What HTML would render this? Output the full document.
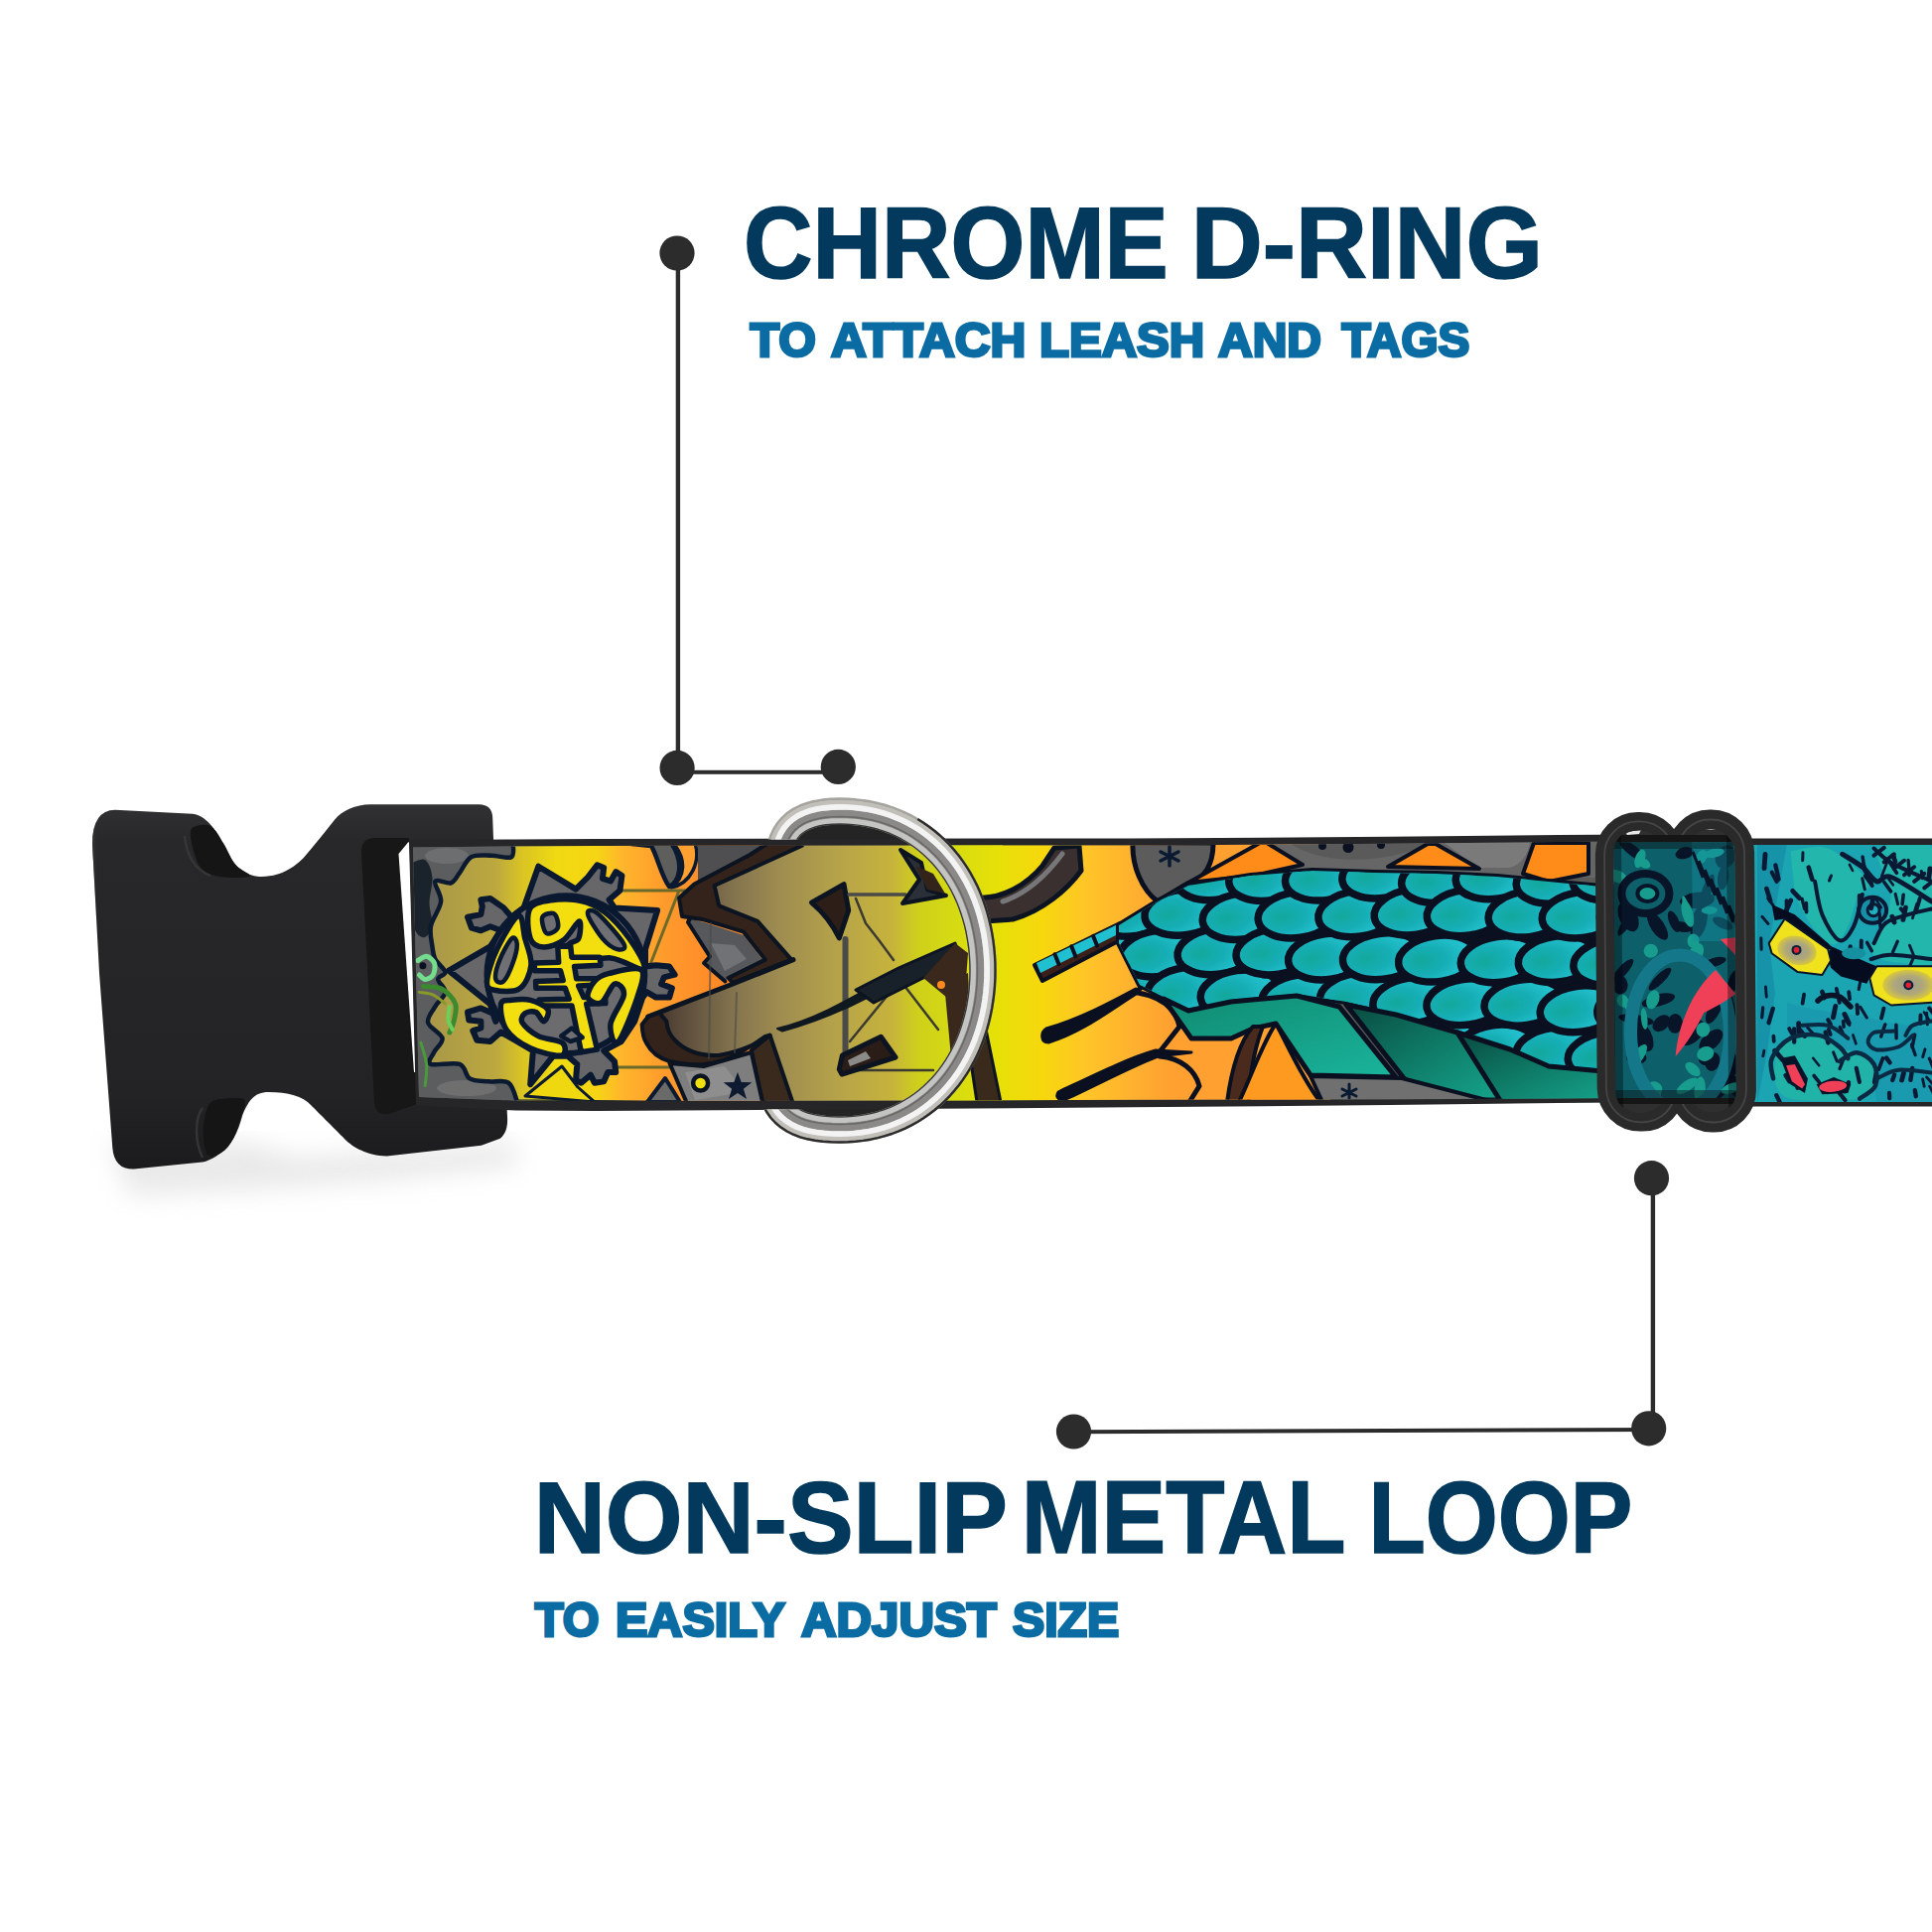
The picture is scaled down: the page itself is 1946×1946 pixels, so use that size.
<!DOCTYPE html>
<html lang="en">
<head>
<meta charset="utf-8">
<title>Dog collar features</title>
<style>
html,body{margin:0;padding:0;background:#fff;}
body{width:1946px;height:1946px;overflow:hidden;position:relative;font-family:"Liberation Sans",sans-serif;}
svg{position:absolute;left:0;top:0;display:block;}
.t1{font-family:"Liberation Sans",sans-serif;font-weight:700;font-size:102.9px;fill:#02395c;stroke:#02395c;stroke-width:1.6px;stroke-linejoin:miter;}
.t2{font-family:"Liberation Sans",sans-serif;font-weight:700;font-size:48.8px;fill:#0a6ca3;stroke:#0a6ca3;stroke-width:3px;stroke-linejoin:miter;}
</style>
</head>
<body>
<svg width="1946" height="1946" viewBox="0 0 1946 1946">
<rect width="1946" height="1946" fill="#ffffff"/>
<defs>
<linearGradient id="gBuckle" x1="0" y1="0" x2="0" y2="1">
<stop offset="0" stop-color="#313133"/><stop offset="0.1" stop-color="#28282a"/><stop offset="0.8" stop-color="#232325"/><stop offset="1" stop-color="#1b1b1d"/>
</linearGradient>
<linearGradient id="gBuckleX" x1="0" y1="0" x2="1" y2="0">
<stop offset="0" stop-color="#3a3a3c" stop-opacity="0.9"/><stop offset="0.08" stop-color="#2e2e30" stop-opacity="0"/><stop offset="1" stop-color="#2e2e30" stop-opacity="0"/>
</linearGradient>
<filter id="fBlur12" x="-20%" y="-20%" width="140%" height="160%"><feGaussianBlur stdDeviation="12"/></filter>
<filter id="fBlur4" x="-20%" y="-20%" width="140%" height="140%"><feGaussianBlur stdDeviation="4"/></filter>
<filter id="fBlur2" x="-20%" y="-20%" width="140%" height="140%"><feGaussianBlur stdDeviation="2"/></filter>
<clipPath id="cpArt"><path d="M416,853.5 L520,852.5 L600,852 L1140,851.5 L1400,849.8 L1570,848 L1690,847.3 L1690,851 L1946,851 L1946,1110 L1690,1110 L1690,1105.5 L1570,1106.5 L1400,1107.2 L1140,1107.8 L900,1108.5 L600,1109 L520,1108.5 L422,1105 Z"/></clipPath>
<clipPath id="cpRing"><path d="M0,0 H1946 V1946 H0 Z M700,845.5 V1117.5 H806 V845.5 Z" clip-rule="evenodd"/></clipPath>
<clipPath id="cpWin"><rect x="1626.3" y="835" width="121.5" height="288" rx="24"/></clipPath>
<clipPath id="cpWinArt"><rect x="1620" y="848.5" width="140" height="257.5"/></clipPath>
</defs>
<g id="shadow" opacity="0.3">
<path d="M110,1150 L250,1150 L300,1165 L520,1150 L520,1175 L390,1190 L240,1200 L130,1205 Z" fill="#b9b9b9" filter="url(#fBlur12)"/>
</g>
<g id="buckle">
<path id="buckleBody" d="M93,850 Q93,816 116,815.7 L194,819.8 C210,822 220,840 227.6,856.7 C235,870 245,882 261,882.9 C285,884 300,870 306,863.8 C315,853 330,835 337,825.7 C345,816 358,810.5 372.9,810.2 L482.4,810.2 Q496,810.5 496.2,824 L497,845 L511,1125 Q512,1140 503.8,1146.7 L484.8,1153.8 L389.5,1164.5 C370,1164 355,1155 349,1149 C340,1140 320,1120 313.3,1113.3 C305,1104 290,1100 270.5,1100 C255,1100 250,1110 244.3,1122.9 C240,1140 232,1156 222.9,1161 C215,1167 208,1170 203.8,1170.5 L134.8,1177.6 Q115,1178 113.3,1156 L100,980 Z" fill="url(#gBuckle)"/>
<path d="M93,850 Q93,816 116,815.7 L134,816.5 L150,1177 L134.8,1177.6 Q115,1178 113.3,1156 L100,980 Z" fill="url(#gBuckleX)"/>
<!-- slots -->
<path d="M191.9,837.6 C192.5,833.1 195.5,832.5 199.0,831.7 C202.6,830.9 209.0,829.9 213.3,832.9 C217.7,835.8 221.3,843.2 225.2,849.5 C229.2,855.9 232.8,865.5 237.1,871.0 C241.5,876.4 253.8,880.3 251.4,882.4 C249.0,884.4 230.8,884.4 222.9,883.3 C214.9,882.2 208.4,879.8 203.8,875.7 C199.2,871.7 197.5,865.4 195.5,859.0 C193.5,852.7 191.3,842.2 191.9,837.6 Z" fill="#151516"/>
<path d="M186,842 C188,862 196,876 212,882" fill="none" stroke="#3a3a3c" stroke-width="2.5" opacity="0.8"/>
<path d="M213.3,1109.8 C217.7,1106.6 226.8,1106.4 232.4,1106.2 C237.9,1106.0 245.1,1105.0 246.7,1108.6 C248.3,1112.1 243.9,1121.3 241.9,1127.6 C239.9,1134.0 237.9,1141.1 234.8,1146.7 C231.6,1152.2 227.0,1158.2 222.9,1161.0 C218.7,1163.7 212.7,1165.7 209.8,1163.3 C206.8,1161.0 205.6,1153.0 205.0,1146.7 C204.4,1140.3 204.8,1131.4 206.2,1125.2 C207.6,1119.1 209.0,1112.9 213.3,1109.8 Z" fill="#151516"/>
<path d="M204,1116 C196,1126 196,1150 204,1166" fill="none" stroke="#39393b" stroke-width="2.5" opacity="0.8"/>
<!-- window -->
<path d="M364,858 Q364,844 378,844 L412,844 L420,1112 L392,1122 Q378,1124 377,1110 Z" fill="#171718"/>
<path d="M401.5,860 L411,848.5 L412.4,848 L418.8,1080 L417,1080 Z" fill="#ffffff"/>
</g>
<g id="strap">
<!-- bulge of the webbing edge inside the ring -->
<path d="M790,846 L798,837 L815,831.5 L846,829.5 L880,833 L906,841 L928,851 Z" fill="#242424"/>
<path d="M786,1114 L797,1123 L820,1126.5 L850,1126 L880,1122 L903,1114 Z" fill="#242424"/>
<path d="M412,846.5 L520,845.5 L600,845 L1140,844.5 L1400,842.8 L1570,841 L1690,840.3 L1690,844.5 L1946,844.6 L1946,1114.6 L1690,1114.5 L1690,1110 L1570,1111 L1400,1113 L1140,1115.3 L900,1117 L600,1119 L520,1118.5 L419,1113.5 Z" fill="#262628"/>
<g clip-path="url(#cpArt)">
<rect x="400" y="840" width="1560" height="280" fill="#5a5a58"/>
<!--ART-->
</g>
</g>
<g id="artA" clip-path="url(#cpArt)" stroke-linejoin="round" stroke-linecap="round">
<defs>
<linearGradient id="gA" gradientUnits="userSpaceOnUse" x1="430" y1="0" x2="720" y2="0">
<stop offset="0" stop-color="#a8974a"/><stop offset="0.24" stop-color="#bca83e"/><stop offset="0.33" stop-color="#d9c424"/>
<stop offset="0.45" stop-color="#f0da12"/><stop offset="0.59" stop-color="#f6d514"/><stop offset="0.68" stop-color="#ffb52c"/>
<stop offset="0.83" stop-color="#ff9a2c"/><stop offset="1" stop-color="#ff8a28"/>
</linearGradient>
</defs>
<!-- dark left edge + grey mottling -->
<rect x="408" y="846" width="130" height="270" fill="#5b5d5e"/>
<path d="M415.1,869.0 C417.3,868.5 424.8,863.7 428.2,866.1 C431.6,868.5 434.7,876.2 435.4,883.5 C436.2,890.7 432.5,901.4 432.5,909.6 C432.5,917.8 436.4,927.0 435.4,932.8 C434.5,938.6 429.9,944.3 426.7,944.3 C423.6,944.3 418.5,940.5 416.6,932.8 C414.7,925.0 415.4,903.8 415.1,898.0 Z" fill="#1a222c"/>
<ellipse cx="450" cy="862" rx="22" ry="8" fill="#747676" opacity="0.7"/>
<ellipse cx="470" cy="1096" rx="30" ry="8" fill="#777" opacity="0.7"/>
<!-- khaki → yellow → orange field -->
<path d="M516.6,848.7 C516.4,851.1 518.8,861.0 515.1,863.2 C511.5,865.4 501.6,861.7 494.9,861.7 C488.1,861.7 479.9,860.3 474.6,863.2 C469.3,866.1 466.4,874.8 463.0,879.1 C459.6,883.5 458.4,887.8 454.3,889.3 C450.2,890.7 440.0,884.7 438.3,887.8 C436.6,891.0 444.9,900.6 444.1,908.1 C443.4,915.6 435.4,925.3 434.0,932.8 C432.5,940.2 434.7,947.5 435.4,953.0 C436.2,958.6 436.2,961.7 438.3,966.1 C440.5,970.4 448.0,975.7 448.5,979.1 C449.0,982.5 441.2,983.0 441.2,986.4 C441.2,989.8 449.0,994.8 448.5,999.4 C448.0,1004.0 441.2,1008.8 438.3,1013.9 C435.4,1019.0 429.9,1024.5 431.1,1029.9 C432.3,1035.2 444.6,1040.7 445.6,1045.8 C446.5,1050.9 438.8,1055.9 436.9,1060.3 C435.0,1064.6 429.6,1070.0 434.0,1071.9 C438.3,1073.8 456.4,1069.5 463.0,1071.9 C469.5,1074.3 468.3,1083.5 473.1,1086.4 C477.9,1089.3 485.4,1088.6 492.0,1089.3 C498.5,1090.0 507.4,1087.3 512.2,1090.7 C517.1,1094.1 519.5,1106.4 520.9,1109.6 L770,1112 L770,848 Z" fill="url(#gA)" stroke="#0b1a30" stroke-width="4.5"/>
<!-- green swirl -->
<path d="M420.9,967.5 C422.4,966.8 426.9,962.7 429.6,963.2 C432.4,963.7 436.5,967.3 437.6,970.4 C438.7,973.6 437.7,979.4 436.2,982.0 C434.6,984.7 430.5,986.4 428.2,986.4 C425.9,986.4 423.4,982.8 422.4,982.0" fill="none" stroke="#74dc8c" stroke-width="5"/>
<circle cx="425.9" cy="972.8" r="3.5" fill="#0a1020"/>
<path d="M426.7,993.6 C429.9,994.1 440.3,993.6 445.6,996.5 C450.9,999.4 456.7,1005.7 458.6,1011.0 C460.6,1016.3 458.1,1023.6 457.2,1028.4 C456.2,1033.2 453.6,1038.1 452.8,1040.0" fill="none" stroke="#3c8a2e" stroke-width="5"/>
<path d="M452.8,1013.9 C452.6,1016.1 450.9,1023.1 451.4,1027.0 C451.9,1030.8 455.0,1035.4 455.7,1037.1" fill="none" stroke="#6ad05a" stroke-width="4"/>
<path d="M422.4,999.4 C424.8,999.9 432.5,1000.4 436.9,1002.3 C441.2,1004.3 446.5,1009.6 448.5,1011.0" fill="none" stroke="#8a9a2a" stroke-width="3"/>
<path d="M423.8,1050.1 C424.8,1053.8 428.9,1064.6 429.6,1071.9 C430.4,1079.1 428.4,1090.0 428.2,1093.6" fill="none" stroke="#4a9a3a" stroke-width="3"/>
<!-- U blob top right -->
<path d="M636,850 L656,852 C662,862 666,882 674,893 C684,888 690,870 676,849 Z" fill="#5e5e5c" stroke="#0b1a30" stroke-width="4.5"/>
<path d="M678,849 C692,866 690,884 676,894 C696,890 706,868 700,849 Z" fill="#ffa030" stroke="#0b1a30" stroke-width="3.5"/>
<!-- thin olive square lines -->
<path d="M623,897 H690 M612,1075 H690 M684,897 L640,1010" fill="none" stroke="#6b6a2a" stroke-width="3"/>
<!-- emblem -->
<g id="emblem" stroke-linejoin="round" stroke-linecap="round">
<path d="M542.3,872.7 L580.0,895.6 L592.1,883.5 L601.5,871.3 L608.2,874.0 L606.9,884.8 L615.0,887.5 L620.3,878.1 L626.4,882.1 L624.4,896.9 L613.6,906.3 L619.0,914.4 L662.1,917.1 L650.0,956.1 L650.0,973.6 L660.7,972.3 L674.2,973.6 L679.6,981.7 L668.8,984.4 L666.1,991.1 L676.9,995.2 L674.2,1004.6 L660.7,1004.6 L651.3,999.2 L647.3,1004.6 L639.2,1028.8 L625.7,1049.0 L608.2,1058.4 L619.0,1069.2 L620.3,1080.0 L612.3,1080.0 L608.2,1089.4 L598.8,1090.7 L594.8,1082.7 L585.4,1090.7 L580.0,1088.0 L581.3,1071.9 L571.9,1063.8 L557.1,1063.8 L534.2,1092.1 L536.9,1058.4 L520.8,1049.0 L504.6,1039.6 L493.8,1049.0 L480.4,1047.7 L476.3,1038.2 L484.4,1035.5 L484.4,1028.8 L472.3,1027.5 L471.0,1019.4 L484.4,1015.4 L496.5,1020.7 L499.2,1028.8 L493.8,1011.3 L452.1,977.7 L493.8,953.4 L504.6,937.3 L493.8,933.3 L484.4,937.3 L475.0,934.6 L471.0,923.8 L484.4,921.1 L485.8,913.1 L484.4,906.3 L493.8,905.0 L507.3,914.4 L515.4,923.8 L527.5,914.4 Z" fill="#67676a" stroke="#0a1830" stroke-width="6"/>
<circle cx="569.9" cy="981.7" r="79.4" fill="#6c6c6e" stroke="#0a1830" stroke-width="6"/>
<path d="M522.1,922.5 C517.4,924.3 505.8,945.1 500.6,956.1 C495.3,967.1 490.9,981.6 490.5,988.4 C490.0,995.3 492.4,996.0 497.9,997.2 C503.4,998.4 517.3,1000.0 523.4,995.8 C529.6,991.7 534.0,980.7 534.9,972.3 C535.8,963.9 531.0,953.7 528.8,945.4 C526.7,937.1 526.8,920.7 522.1,922.5 Z" fill="#f3de10" stroke="#0a1830" stroke-width="5.5"/>
<path d="M515.4,945.4 C512.5,948.1 505.9,960.2 503.3,966.9 C500.6,973.6 498.5,982.2 499.2,985.7 C499.9,989.3 504.4,991.1 507.3,988.4 C510.2,985.7 514.5,975.9 516.7,969.6 C519.0,963.3 521.0,954.8 520.8,950.8 C520.5,946.7 518.3,942.7 515.4,945.4 Z" fill="#707074" stroke="#0a1830" stroke-width="4.5"/>
<path d="M534.2,914.4 C538.7,907.9 551.7,907.0 561.1,906.1 C570.6,905.2 581.8,906.1 590.7,909.0 C599.7,912.0 606.9,916.4 615.0,923.8 C623.0,931.2 633.7,944.7 639.2,953.4 C644.7,962.2 652.0,974.4 647.9,976.3 C643.9,978.2 627.0,965.9 615.0,964.9 C603.0,963.9 583.0,972.4 575.9,970.3 C568.9,968.1 571.4,956.2 572.6,952.1 C573.7,947.9 580.9,949.4 582.7,945.4 C584.5,941.3 585.8,927.6 583.3,927.9 C580.9,928.1 573.8,942.3 567.9,946.7 C561.9,951.1 553.3,954.3 547.7,954.1 C542.1,953.9 536.5,952.0 534.2,945.4 C532.0,938.8 529.7,921.0 534.2,914.4 Z" fill="#f3de10" stroke="#0a1830" stroke-width="5.5"/>
<path d="M546.3,923.8 C547.7,920.6 555.9,918.7 558.4,920.5 C561.0,922.3 563.1,931.4 561.8,934.6 C560.5,937.9 552.9,941.8 550.4,940.0 C547.8,938.2 545.0,927.1 546.3,923.8 Z" fill="#707074" stroke="#0a1830" stroke-width="4.5"/>
<path d="M592.1,921.1 C591.2,916.9 595.5,914.9 601.5,919.8 C607.6,924.7 625.1,944.7 628.4,950.8 C631.8,956.8 625.3,957.0 621.7,956.1 C618.1,955.2 611.8,951.2 606.9,945.4 C602.0,939.5 593.0,925.4 592.1,921.1 Z" fill="#707074" stroke="#0a1830" stroke-width="4.5"/>
<path d="M561.8,953.4 L574.6,952.1 L575.9,964.2 L604.2,964.2 L604.9,972.3 L578.6,973.6 L580.6,985.7 L606.9,985.7 L607.6,991.8 L582.7,993.1 L588.0,1004.6 L609.6,1004.6 L609.9,1010.6 L590.7,1011.3 L601.5,1057.1 L585.4,1059.8 L575.9,1012.9 L543.6,1012.9 L543.0,1007.0 L573.2,1006.2 L569.2,995.2 L539.9,995.2 L539.6,988.4 L567.2,987.4 L564.5,977.7 L538.5,977.7 L538.3,969.9 L562.7,969.3 Z" fill="#f3de10" stroke="#0a1830" stroke-width="5.5"/>
<path d="M504.6,1011.3 C503.7,1016.3 505.1,1029.5 510.0,1036.9 C514.9,1044.3 525.0,1051.4 534.2,1055.7 C543.4,1060.1 559.8,1064.0 565.2,1063.1 C570.6,1062.2 570.3,1053.6 566.5,1050.3 C562.7,1047.1 549.0,1047.0 542.3,1043.6 C535.6,1040.3 528.4,1034.0 526.1,1030.2 C523.9,1026.3 526.6,1022.5 528.8,1020.7 C531.1,1018.9 536.5,1018.0 539.6,1019.4 C542.7,1020.7 545.7,1029.3 547.7,1028.8 C549.7,1028.4 554.0,1020.3 551.7,1016.7 C549.5,1013.1 540.3,1008.9 534.2,1007.3 C528.2,1005.7 520.3,1006.6 515.4,1007.3 C510.4,1008.0 505.5,1006.4 504.6,1011.3 Z" fill="#f3de10" stroke="#0a1830" stroke-width="5.5"/>
<path d="M613.6,980.4 C621.5,978.5 641.2,973.0 645.9,977.0 C650.6,981.0 645.8,992.5 641.9,1004.6 C638.0,1016.7 626.9,1045.2 622.4,1049.7 C617.9,1054.2 614.0,1039.5 615.0,1031.5 C616.0,1023.5 627.8,1008.6 628.4,1001.9 C629.1,995.2 622.8,989.8 619.0,991.1 C615.2,992.5 610.0,1007.7 605.5,1010.0 C601.1,1012.2 593.2,1008.2 592.1,1004.6 C591.0,1001.0 595.2,992.5 598.8,988.4 C602.4,984.4 605.8,982.3 613.6,980.4 Z" fill="#f3de10" stroke="#0a1830" stroke-width="5.5"/>
<path d="M565.2,1043.6 L575.9,1035.5 L586.7,1045.0 L574.6,1049.0 Z" fill="#707074" stroke="#0a1830" stroke-width="4.5"/>
</g>
<!-- bottom yellow wedge -->
<path d="M529,1104 L566,1074 L582,1095 L599,1110 Z" fill="#f0d810" stroke="#0b1a30" stroke-width="3"/>
<!-- bottom right grey triangle + dot -->
<path d="M652,1110 L670,1086 L685,1110 Z" fill="#6a6a68" stroke="#0b1a30" stroke-width="4"/>
</g>
<g id="artB" clip-path="url(#cpArt)" stroke-linejoin="round" stroke-linecap="round">
<defs>
<linearGradient id="gB" gradientUnits="userSpaceOnUse" x1="660" y1="0" x2="1000" y2="0">
<stop offset="0" stop-color="#453628"/><stop offset="0.06" stop-color="#564638"/><stop offset="0.14" stop-color="#6b5c44"/><stop offset="0.24" stop-color="#85754e"/><stop offset="0.38" stop-color="#a08e50"/>
<stop offset="0.56" stop-color="#b8a548"/><stop offset="0.7" stop-color="#c6b33c"/><stop offset="0.78" stop-color="#cfd01a"/><stop offset="0.9" stop-color="#d6dc12"/><stop offset="1" stop-color="#e4e208"/>
</linearGradient>
</defs>
<!-- grey top-left behind the top arm -->
<path d="M703,848 L782,848 L703,891 Z" fill="#4f4f51"/>
<!-- khaki / yellow-green field for the letters (one big region) -->
<path d="M664,1020 L737,991.5 L799,966.6 L763,928 L724,912 L719.6,892 L808,851 L1010,850 L1010,1110 L800,1110 L775.5,1043 C764,1050 750,1058 724,1063 C705,1064 690,1058 680,1048 C674,1042 672,1036 671,1029 Z" fill="url(#gB)"/>
<!-- grey inside the chevron -->
<path d="M693,925 L709,929 L749,942 L768,966.6 L733.5,985 L730,988 L709,970 L715,963.5 L693,929 Z" fill="#56585c"/>
<path d="M716,950 L740,952 L752,966 L730,978 Z" fill="#8a8c8e" opacity="0.5"/>
<!-- jagged navy outline between orange and grey -->
<path d="M699,917 L693,929 L715,963.5 L709,970 L730.4,988.4" fill="none" stroke="#0b1420" stroke-width="4"/>
<!-- brown 3D band: top arm + chevron (one connected shape) -->
<path d="M810,846 L778.6,846 L755.3,861 L699.4,890.6 L684,904.5 L687,923 L708.7,926.3 L749,938.7 L770.8,966.6 L733.5,985 L738.2,990 L797.2,966.6 L763,927.8 L724.2,912.3 L719.6,892 L808,851.7 Z" fill="#33231a" stroke="#0b1420" stroke-width="4"/>
<!-- upper edge of middle band (navy line) -->
<path d="M652.8,1024 L737,991.5 L799,966.6" fill="none" stroke="#0b1420" stroke-width="5"/>
<!-- brown band around the S bowl -->
<path d="M652.8,1024 L646.6,1032 C647,1040 648,1046 651,1050.5 C656,1060 664,1066 674.5,1069 C686,1072 698,1072.5 708.7,1072 C720,1071 730,1068 739.8,1063 C752,1057 762,1050 770.8,1044 L775.5,1042.7 C764,1050 750,1058 724,1063 C705,1064 690,1058 680,1048 C674,1042 672,1036 671.4,1028.8 L664,1020 Z" fill="#33231a" stroke="#0b1420" stroke-width="4"/>
<!-- E stem brown -->
<path d="M756.8,1058 L775.5,1042.7 L800.3,1116 L769.3,1116 Z" fill="#3a2a1e" stroke="#0b1420" stroke-width="4"/>
<!-- light grey area with dot + star -->
<path d="M674.5,1071 L708.7,1074 L739.8,1065 L756.8,1060 L769.3,1116 L694,1116 Z" fill="#7e7e7e" stroke="#0b1420" stroke-width="4"/>
<path d="M690,1080 L730,1074 L750,1100 L700,1108 Z" fill="#9a9a9a" opacity="0.6"/>
<circle cx="705.6" cy="1091" r="7.5" fill="#f0e010" stroke="#0b1420" stroke-width="4.5"/>
<path d="M743,1080 l3.7,10 l10.6,0.3 l-8.4,6.5 l3.1,10.3 l-9,-6.1 l-9,6.1 l3.1,-10.3 l-8.4,-6.5 l10.6,-0.3 z" fill="#0e1a30"/>
<!-- stitched seam lines -->
<path d="M716,930 L714,1066 M742,1000 L740,1060" fill="none" stroke="#4a4a46" stroke-width="2" opacity="0.6"/>
<!-- dark triangle notch upper -->
<path d="M817.4,909.2 L850,890.6 L854.7,917 L845.3,945 C838,930 828,918 817.4,909.2 Z" fill="#2d1f18" stroke="#0b1420" stroke-width="5"/>
<!-- box lines -->
<path d="M855,901 H912" fill="none" stroke="#4a4a48" stroke-width="3.5"/>
<path d="M851.5,946 V1060" fill="none" stroke="#4a4a48" stroke-width="6"/>
<path d="M862,905 L872,930 L886,948 L900,967 M856,1049 L905,989 M908,989 L945,1037 M852,1078 H940" fill="none" stroke="#3a3a30" stroke-width="2.5"/>
<!-- navy swoosh -->
<path d="M783,1036 C830,1025 870,997 928,966 L934,973 C884,1000 842,1024 788,1038.5 Z" fill="#101820" stroke="#101820" stroke-width="2"/>
<!-- lower notch -->
<path d="M845.3,1077 L848.4,1063 L887.3,1044.3 L902,1065 L848,1082 Z" fill="#2a1c16" stroke="#0b1420" stroke-width="5"/>
<path d="M854,1068 L872,1059 L877,1066 L856,1074 Z" fill="#8a8a88"/>
<!-- flag top right -->
<path d="M907,856 L928,869 L934,896 L953,902 L909,910 L926,886 Z" fill="#2a2f38" stroke="#0b1420" stroke-width="4"/>
<path d="M922,872 L940,880 L952,900 L934,896 Z" fill="#33241b"/>
<!-- dark band lower right (seen inside ring) -->
<path d="M862,997 L905,975 L962,950 L968,968 L930,985 L880,1010 Z" fill="#18202a" stroke="#0b1420" stroke-width="3"/>
<path d="M930,985 L962,950 L975,960 L972,1000 L960,1010 Z" fill="#3a281c"/>
<path d="M951,990 L975,980 L982,1108 L962,1108 Z" fill="#3a281c"/>
<circle cx="948" cy="992" r="4" fill="#ff8a20"/>
</g>
<g id="artC" clip-path="url(#cpArt)" stroke-linejoin="round" stroke-linecap="round">
<defs>
<linearGradient id="gC" gradientUnits="userSpaceOnUse" x1="960" y1="0" x2="1180" y2="0">
<stop offset="0" stop-color="#d6dc10"/><stop offset="0.2" stop-color="#e6e008"/><stop offset="0.4" stop-color="#f6d80c"/><stop offset="0.62" stop-color="#ffc428"/><stop offset="0.85" stop-color="#ffae30"/><stop offset="1" stop-color="#ffa030"/>
</linearGradient>
<linearGradient id="gScale" gradientUnits="userSpaceOnUse" x1="1130" y1="0" x2="1620" y2="0">
<stop offset="0" stop-color="#1fb4c0"/><stop offset="1" stop-color="#1aa6b4"/>
</linearGradient>
<radialGradient id="gSc" cx="0.3" cy="0.5" r="0.55"><stop offset="0" stop-color="#12a89c"/><stop offset="0.55" stop-color="#16aeb6"/><stop offset="1" stop-color="#22c0cc"/></radialGradient>
<linearGradient id="gBelly1" x1="0" y1="0" x2="1" y2="1"><stop offset="0" stop-color="#0f8a70"/><stop offset="1" stop-color="#1ab49c"/></linearGradient>
<linearGradient id="gBelly2" x1="0" y1="0" x2="1" y2="1"><stop offset="0" stop-color="#0a4a40"/><stop offset="0.5" stop-color="#0e7a66"/><stop offset="1" stop-color="#16a48c"/></linearGradient>
</defs>
<clipPath id="cpRoR"><path d="M846,817 C936,817 990,890 990,977.5 C990,1065 936,1138 846,1138 L1400,1138 L1400,817 Z"/></clipPath>
<rect x="900" y="848" width="440" height="262" fill="url(#gC)" clip-path="url(#cpRoR)"/>
<path d="M972,1030 L990,1022 L1008,1110 L984,1110 Z" fill="#3a2a1c" stroke="#0b1420" stroke-width="3" clip-path="url(#cpRoR)"/>
<path d="M985,904 C1010,906 1035,890 1050,872 L1062,854 L1087,852 L1089,877 C1075,896 1050,918 1020,926 L992,928 Z" fill="#3a3030" stroke="#0b1420" stroke-width="5"/>
<path d="M1010,908 C1035,900 1055,880 1070,860" fill="none" stroke="#77777a" stroke-width="5"/>
<path d="M1054,1036 C1048,1040 1048,1050 1056,1050 C1090,1040 1120,1016 1146,1000 L1144,996 C1118,1010 1088,1026 1054,1036 Z" fill="#0a1020" stroke="#0a1020" stroke-width="3"/>
<path d="M1066,1100 C1062,1106 1068,1110 1076,1106 C1110,1090 1140,1074 1166,1064 L1200,1060 L1164,1058 C1136,1066 1100,1084 1066,1100 Z" fill="#0a1020" stroke="#0a1020" stroke-width="3"/>
<path d="M1127,950 C1150,944 1166,952 1170,972 L1146,998 M1146,1000 C1170,1004 1184,1016 1188,1034 L1166,1062 M1168,1064 C1190,1066 1204,1078 1208,1094 L1198,1110" fill="none" stroke="#0a1020" stroke-width="5"/>
<path d="M1042,972 L1128,930 L1134,944 L1050,988 Z" fill="#3a2018" stroke="#0a1020" stroke-width="4"/>
<path d="M1044,970 L1128,930 L1132,938 L1048,980 Z" fill="#20c0d0"/>
<path d="M1062.5,961.2 l4,10" stroke="#0a1020" stroke-width="4" fill="none"/>
<path d="M1079.3,953.2 l4,10" stroke="#0a1020" stroke-width="4" fill="none"/>
<path d="M1101.1,942.8 l4,10" stroke="#0a1020" stroke-width="4" fill="none"/>
</g>
<g id="artD" clip-path="url(#cpArt)" stroke-linejoin="round" stroke-linecap="round">
<path d="M1141,849 L1222,849 C1222,870 1214,886 1196,890 L1166,908 C1150,896 1140,872 1141,849 Z" fill="#5c5c5c" stroke="#0a1020" stroke-width="5"/>
<path d="M1178,853 v19 M1169,858 l18,9 M1169,867 l18,-9" stroke="#0a1a30" stroke-width="3.5" fill="none"/>
<path d="M1270,846 L1620,846 L1620,884 L1300,882 Z" fill="#666666"/>
<path d="M1300,850 C1330,870 1390,872 1440,850 Z" fill="#5a5a5a"/>
<path d="M1455,849 L1541,849 C1538,864 1530,872 1520,874 L1488,874 Z" fill="#7a7a7a"/>
<path d="M1197,889 L1269,849 L1276,849 L1312,871 L1262,882 Z" fill="#ff8c18" stroke="#0a1020" stroke-width="4"/>
<path d="M1398,873 L1438,850 L1446,850 L1490,875 Z" fill="#ff8c18" stroke="#0a1020" stroke-width="4"/>
<path d="M1534,880 L1545,849 L1600,849 L1600,880 L1560,888 Z" fill="#ff8c18" stroke="#0a1020" stroke-width="4"/>
<circle cx="1332" cy="852" r="4" fill="#0a1020"/>
<circle cx="1358" cy="853.5" r="5.5" fill="#0a1020"/>
<circle cx="1391" cy="851" r="4" fill="#0a1020"/>
<path id="bodyShape" d="M1127,932 L1166,908 L1197,892 L1260,882 L1322,877 L1384,879 L1446,880 L1508,883 L1580,890 L1625,894 L1625,1078 L1560,1072 L1521,1055 L1472,1039 L1406,1021 L1356,1009 L1306,1001 L1240,1007 L1197,1016 L1172,1004 L1148,992 L1127,950 Z" fill="#0a1020" stroke="#0a1020" stroke-width="6"/>
<clipPath id="cpBody"><path d="M1127,932 L1166,908 L1197,892 L1260,882 L1322,877 L1384,879 L1446,880 L1508,883 L1580,890 L1625,894 L1625,1078 L1560,1072 L1521,1055 L1472,1039 L1406,1021 L1356,1009 L1306,1001 L1240,1007 L1197,1016 L1172,1004 L1148,992 L1127,950 Z"/></clipPath>
<g clip-path="url(#cpBody)">
<rect x="1100" y="860" width="560" height="240" fill="#0a1020"/>
<ellipse cx="1106.6" cy="1028.3" rx="40" ry="23" fill="url(#gSc)" stroke="#0a1020" stroke-width="7.5" transform="rotate(-8 1106.6 1028.3)"/>
<ellipse cx="1106.8" cy="1099.6" rx="40" ry="23" fill="url(#gSc)" stroke="#0a1020" stroke-width="7.5" transform="rotate(-8 1106.8 1099.6)"/>
<ellipse cx="1108.0" cy="957.3" rx="40" ry="23" fill="url(#gSc)" stroke="#0a1020" stroke-width="7.5" transform="rotate(-8 1108.0 957.3)"/>
<ellipse cx="1108.6" cy="881.9" rx="40" ry="23" fill="url(#gSc)" stroke="#0a1020" stroke-width="7.5" transform="rotate(-8 1108.6 881.9)"/>
<ellipse cx="1141.2" cy="996.7" rx="40" ry="23" fill="url(#gSc)" stroke="#0a1020" stroke-width="7.5" transform="rotate(-8 1141.2 996.7)"/>
<ellipse cx="1141.4" cy="919.7" rx="40" ry="23" fill="url(#gSc)" stroke="#0a1020" stroke-width="7.5" transform="rotate(-8 1141.4 919.7)"/>
<ellipse cx="1142.1" cy="1068.2" rx="40" ry="23" fill="url(#gSc)" stroke="#0a1020" stroke-width="7.5" transform="rotate(-8 1142.1 1068.2)"/>
<ellipse cx="1163.2" cy="1109.0" rx="40" ry="23" fill="url(#gSc)" stroke="#0a1020" stroke-width="7.5" transform="rotate(-8 1163.2 1109.0)"/>
<ellipse cx="1167.2" cy="960.4" rx="40" ry="23" fill="url(#gSc)" stroke="#0a1020" stroke-width="7.5" transform="rotate(-8 1167.2 960.4)"/>
<ellipse cx="1167.4" cy="1034.8" rx="40" ry="23" fill="url(#gSc)" stroke="#0a1020" stroke-width="7.5" transform="rotate(-8 1167.4 1034.8)"/>
<ellipse cx="1168.2" cy="881.4" rx="40" ry="23" fill="url(#gSc)" stroke="#0a1020" stroke-width="7.5" transform="rotate(-8 1168.2 881.4)"/>
<ellipse cx="1192.7" cy="918.7" rx="40" ry="23" fill="url(#gSc)" stroke="#0a1020" stroke-width="7.5" transform="rotate(-8 1192.7 918.7)"/>
<ellipse cx="1195.3" cy="997.6" rx="40" ry="23" fill="url(#gSc)" stroke="#0a1020" stroke-width="7.5" transform="rotate(-8 1195.3 997.6)"/>
<ellipse cx="1195.6" cy="1072.9" rx="40" ry="23" fill="url(#gSc)" stroke="#0a1020" stroke-width="7.5" transform="rotate(-8 1195.6 1072.9)"/>
<ellipse cx="1224.3" cy="883.2" rx="40" ry="23" fill="url(#gSc)" stroke="#0a1020" stroke-width="7.5" transform="rotate(-8 1224.3 883.2)"/>
<ellipse cx="1224.9" cy="1111.1" rx="40" ry="23" fill="url(#gSc)" stroke="#0a1020" stroke-width="7.5" transform="rotate(-8 1224.9 1111.1)"/>
<ellipse cx="1225.8" cy="958.2" rx="40" ry="23" fill="url(#gSc)" stroke="#0a1020" stroke-width="7.5" transform="rotate(-8 1225.8 958.2)"/>
<ellipse cx="1226.6" cy="1038.5" rx="40" ry="23" fill="url(#gSc)" stroke="#0a1020" stroke-width="7.5" transform="rotate(-8 1226.6 1038.5)"/>
<ellipse cx="1249.0" cy="1000.4" rx="40" ry="23" fill="url(#gSc)" stroke="#0a1020" stroke-width="7.5" transform="rotate(-8 1249.0 1000.4)"/>
<ellipse cx="1251.0" cy="922.9" rx="40" ry="23" fill="url(#gSc)" stroke="#0a1020" stroke-width="7.5" transform="rotate(-8 1251.0 922.9)"/>
<ellipse cx="1253.9" cy="1074.6" rx="40" ry="23" fill="url(#gSc)" stroke="#0a1020" stroke-width="7.5" transform="rotate(-8 1253.9 1074.6)"/>
<ellipse cx="1277.5" cy="884.0" rx="40" ry="23" fill="url(#gSc)" stroke="#0a1020" stroke-width="7.5" transform="rotate(-8 1277.5 884.0)"/>
<ellipse cx="1279.0" cy="1118.7" rx="40" ry="23" fill="url(#gSc)" stroke="#0a1020" stroke-width="7.5" transform="rotate(-8 1279.0 1118.7)"/>
<ellipse cx="1279.2" cy="1039.7" rx="40" ry="23" fill="url(#gSc)" stroke="#0a1020" stroke-width="7.5" transform="rotate(-8 1279.2 1039.7)"/>
<ellipse cx="1284.8" cy="958.4" rx="40" ry="23" fill="url(#gSc)" stroke="#0a1020" stroke-width="7.5" transform="rotate(-8 1284.8 958.4)"/>
<ellipse cx="1306.9" cy="921.5" rx="40" ry="23" fill="url(#gSc)" stroke="#0a1020" stroke-width="7.5" transform="rotate(-8 1306.9 921.5)"/>
<ellipse cx="1310.7" cy="1004.7" rx="40" ry="23" fill="url(#gSc)" stroke="#0a1020" stroke-width="7.5" transform="rotate(-8 1310.7 1004.7)"/>
<ellipse cx="1312.7" cy="1084.1" rx="40" ry="23" fill="url(#gSc)" stroke="#0a1020" stroke-width="7.5" transform="rotate(-8 1312.7 1084.1)"/>
<ellipse cx="1334.3" cy="883.6" rx="40" ry="23" fill="url(#gSc)" stroke="#0a1020" stroke-width="7.5" transform="rotate(-8 1334.3 883.6)"/>
<ellipse cx="1336.9" cy="1046.3" rx="40" ry="23" fill="url(#gSc)" stroke="#0a1020" stroke-width="7.5" transform="rotate(-8 1336.9 1046.3)"/>
<ellipse cx="1336.9" cy="1123.8" rx="40" ry="23" fill="url(#gSc)" stroke="#0a1020" stroke-width="7.5" transform="rotate(-8 1336.9 1123.8)"/>
<ellipse cx="1337.3" cy="963.5" rx="40" ry="23" fill="url(#gSc)" stroke="#0a1020" stroke-width="7.5" transform="rotate(-8 1337.3 963.5)"/>
<ellipse cx="1367.6" cy="920.2" rx="40" ry="23" fill="url(#gSc)" stroke="#0a1020" stroke-width="7.5" transform="rotate(-8 1367.6 920.2)"/>
<ellipse cx="1369.1" cy="1003.0" rx="40" ry="23" fill="url(#gSc)" stroke="#0a1020" stroke-width="7.5" transform="rotate(-8 1369.1 1003.0)"/>
<ellipse cx="1369.5" cy="1089.4" rx="40" ry="23" fill="url(#gSc)" stroke="#0a1020" stroke-width="7.5" transform="rotate(-8 1369.5 1089.4)"/>
<ellipse cx="1391.6" cy="881.5" rx="40" ry="23" fill="url(#gSc)" stroke="#0a1020" stroke-width="7.5" transform="rotate(-8 1391.6 881.5)"/>
<ellipse cx="1392.2" cy="963.2" rx="40" ry="23" fill="url(#gSc)" stroke="#0a1020" stroke-width="7.5" transform="rotate(-8 1392.2 963.2)"/>
<ellipse cx="1397.8" cy="1135.4" rx="40" ry="23" fill="url(#gSc)" stroke="#0a1020" stroke-width="7.5" transform="rotate(-8 1397.8 1135.4)"/>
<ellipse cx="1398.7" cy="1045.8" rx="40" ry="23" fill="url(#gSc)" stroke="#0a1020" stroke-width="7.5" transform="rotate(-8 1398.7 1045.8)"/>
<ellipse cx="1422.6" cy="1007.9" rx="40" ry="23" fill="url(#gSc)" stroke="#0a1020" stroke-width="7.5" transform="rotate(-8 1422.6 1007.9)"/>
<ellipse cx="1422.6" cy="1092.1" rx="40" ry="23" fill="url(#gSc)" stroke="#0a1020" stroke-width="7.5" transform="rotate(-8 1422.6 1092.1)"/>
<ellipse cx="1423.9" cy="918.4" rx="40" ry="23" fill="url(#gSc)" stroke="#0a1020" stroke-width="7.5" transform="rotate(-8 1423.9 918.4)"/>
<ellipse cx="1448.3" cy="965.6" rx="40" ry="23" fill="url(#gSc)" stroke="#0a1020" stroke-width="7.5" transform="rotate(-8 1448.3 965.6)"/>
<ellipse cx="1449.4" cy="1050.1" rx="40" ry="23" fill="url(#gSc)" stroke="#0a1020" stroke-width="7.5" transform="rotate(-8 1449.4 1050.1)"/>
<ellipse cx="1451.4" cy="886.0" rx="40" ry="23" fill="url(#gSc)" stroke="#0a1020" stroke-width="7.5" transform="rotate(-8 1451.4 886.0)"/>
<ellipse cx="1451.7" cy="1138.8" rx="40" ry="23" fill="url(#gSc)" stroke="#0a1020" stroke-width="7.5" transform="rotate(-8 1451.7 1138.8)"/>
<ellipse cx="1476.7" cy="1009.2" rx="40" ry="23" fill="url(#gSc)" stroke="#0a1020" stroke-width="7.5" transform="rotate(-8 1476.7 1009.2)"/>
<ellipse cx="1477.0" cy="919.2" rx="40" ry="23" fill="url(#gSc)" stroke="#0a1020" stroke-width="7.5" transform="rotate(-8 1477.0 919.2)"/>
<ellipse cx="1477.3" cy="1098.7" rx="40" ry="23" fill="url(#gSc)" stroke="#0a1020" stroke-width="7.5" transform="rotate(-8 1477.3 1098.7)"/>
<ellipse cx="1505.7" cy="1142.9" rx="40" ry="23" fill="url(#gSc)" stroke="#0a1020" stroke-width="7.5" transform="rotate(-8 1505.7 1142.9)"/>
<ellipse cx="1506.0" cy="882.3" rx="40" ry="23" fill="url(#gSc)" stroke="#0a1020" stroke-width="7.5" transform="rotate(-8 1506.0 882.3)"/>
<ellipse cx="1506.9" cy="1055.5" rx="40" ry="23" fill="url(#gSc)" stroke="#0a1020" stroke-width="7.5" transform="rotate(-8 1506.9 1055.5)"/>
<ellipse cx="1511.1" cy="966.3" rx="40" ry="23" fill="url(#gSc)" stroke="#0a1020" stroke-width="7.5" transform="rotate(-8 1511.1 966.3)"/>
<ellipse cx="1534.0" cy="1100.4" rx="40" ry="23" fill="url(#gSc)" stroke="#0a1020" stroke-width="7.5" transform="rotate(-8 1534.0 1100.4)"/>
<ellipse cx="1534.8" cy="1009.7" rx="40" ry="23" fill="url(#gSc)" stroke="#0a1020" stroke-width="7.5" transform="rotate(-8 1534.8 1009.7)"/>
<ellipse cx="1538.9" cy="920.6" rx="40" ry="23" fill="url(#gSc)" stroke="#0a1020" stroke-width="7.5" transform="rotate(-8 1538.9 920.6)"/>
<ellipse cx="1564.7" cy="1150.3" rx="40" ry="23" fill="url(#gSc)" stroke="#0a1020" stroke-width="7.5" transform="rotate(-8 1564.7 1150.3)"/>
<ellipse cx="1566.7" cy="1058.0" rx="40" ry="23" fill="url(#gSc)" stroke="#0a1020" stroke-width="7.5" transform="rotate(-8 1566.7 1058.0)"/>
<ellipse cx="1567.0" cy="886.7" rx="40" ry="23" fill="url(#gSc)" stroke="#0a1020" stroke-width="7.5" transform="rotate(-8 1567.0 886.7)"/>
<ellipse cx="1569.0" cy="966.0" rx="40" ry="23" fill="url(#gSc)" stroke="#0a1020" stroke-width="7.5" transform="rotate(-8 1569.0 966.0)"/>
<ellipse cx="1591.0" cy="1016.2" rx="40" ry="23" fill="url(#gSc)" stroke="#0a1020" stroke-width="7.5" transform="rotate(-8 1591.0 1016.2)"/>
<ellipse cx="1592.2" cy="1106.1" rx="40" ry="23" fill="url(#gSc)" stroke="#0a1020" stroke-width="7.5" transform="rotate(-8 1592.2 1106.1)"/>
<ellipse cx="1593.0" cy="921.5" rx="40" ry="23" fill="url(#gSc)" stroke="#0a1020" stroke-width="7.5" transform="rotate(-8 1593.0 921.5)"/>
<ellipse cx="1619.0" cy="1062.8" rx="40" ry="23" fill="url(#gSc)" stroke="#0a1020" stroke-width="7.5" transform="rotate(-8 1619.0 1062.8)"/>
<ellipse cx="1623.6" cy="883.4" rx="40" ry="23" fill="url(#gSc)" stroke="#0a1020" stroke-width="7.5" transform="rotate(-8 1623.6 883.4)"/>
<ellipse cx="1624.6" cy="969.0" rx="40" ry="23" fill="url(#gSc)" stroke="#0a1020" stroke-width="7.5" transform="rotate(-8 1624.6 969.0)"/>
<ellipse cx="1625.6" cy="1156.1" rx="40" ry="23" fill="url(#gSc)" stroke="#0a1020" stroke-width="7.5" transform="rotate(-8 1625.6 1156.1)"/>
<ellipse cx="1648.5" cy="1015.6" rx="40" ry="23" fill="url(#gSc)" stroke="#0a1020" stroke-width="7.5" transform="rotate(-8 1648.5 1015.6)"/>
<ellipse cx="1650.2" cy="1110.6" rx="40" ry="23" fill="url(#gSc)" stroke="#0a1020" stroke-width="7.5" transform="rotate(-8 1650.2 1110.6)"/>
<ellipse cx="1651.1" cy="919.8" rx="40" ry="23" fill="url(#gSc)" stroke="#0a1020" stroke-width="7.5" transform="rotate(-8 1651.1 919.8)"/>
<ellipse cx="1676.2" cy="1167.2" rx="40" ry="23" fill="url(#gSc)" stroke="#0a1020" stroke-width="7.5" transform="rotate(-8 1676.2 1167.2)"/>
<ellipse cx="1679.0" cy="1067.5" rx="40" ry="23" fill="url(#gSc)" stroke="#0a1020" stroke-width="7.5" transform="rotate(-8 1679.0 1067.5)"/>
<ellipse cx="1680.6" cy="969.4" rx="40" ry="23" fill="url(#gSc)" stroke="#0a1020" stroke-width="7.5" transform="rotate(-8 1680.6 969.4)"/>
<ellipse cx="1683.8" cy="881.3" rx="40" ry="23" fill="url(#gSc)" stroke="#0a1020" stroke-width="7.5" transform="rotate(-8 1683.8 881.3)"/>
<ellipse cx="1704.5" cy="1116.3" rx="40" ry="23" fill="url(#gSc)" stroke="#0a1020" stroke-width="7.5" transform="rotate(-8 1704.5 1116.3)"/>
<ellipse cx="1707.6" cy="1021.9" rx="40" ry="23" fill="url(#gSc)" stroke="#0a1020" stroke-width="7.5" transform="rotate(-8 1707.6 1021.9)"/>
<ellipse cx="1710.9" cy="922.2" rx="40" ry="23" fill="url(#gSc)" stroke="#0a1020" stroke-width="7.5" transform="rotate(-8 1710.9 922.2)"/>
</g>
<path d="M1172,1006 L1197,1018 L1240,1009 L1306,1003 L1349,1014 L1406,1085 L1320,1083 L1285,1031 L1262,1036 L1240,1046 L1200,1046 Z" fill="url(#gBelly1)" stroke="#0a1020" stroke-width="5"/>
<path d="M1356,1012 L1406,1022 L1468,1040 L1512,1108 L1440,1108 L1414,1086 Z" fill="url(#gBelly2)" stroke="#0a1020" stroke-width="5"/>
<path d="M1468,1040 L1521,1057 L1560,1074 L1625,1080 L1625,1110 L1512,1110 Z" fill="url(#gBelly2)" stroke="#0a1020" stroke-width="5"/>
<path d="M1236,1110 C1240,1080 1248,1050 1262,1034 L1272,1034 C1262,1060 1258,1090 1258,1110 Z" fill="#4a2a1c" stroke="#0a1020" stroke-width="4"/>
<path d="M1248,1110 C1262,1080 1272,1050 1285,1031 C1296,1050 1310,1084 1330,1110 Z" fill="#ff9a20" stroke="#0a1020" stroke-width="4"/>
<path d="M1320,1084 L1412,1086 L1505,1110 L1332,1110 Z" fill="#707070" stroke="#0a1020" stroke-width="4"/>
<path d="M1359,1092 v14 M1352,1097 l14,7 M1352,1104 l14,-7" stroke="#0a1a30" stroke-width="3" fill="none"/>
</g>
<g id="artE" clip-path="url(#cpArt)" stroke-linejoin="round" stroke-linecap="round">
<rect x="1640" y="846" width="320" height="270" fill="#1ba4b2"/>
<path d="M1770,850 L1800,850 L1790,905 L1782,950 L1788,1000 L1780,1060 L1770,1110 Z" fill="#178ea6" opacity="0.8"/>
<path d="M1800,1010 C1830,1020 1870,1020 1900,1030 L1946,1036 L1946,1110 L1890,1110 C1890,1080 1860,1050 1800,1040 Z" fill="#1896ac" opacity="0.7"/>
<path d="M1803.5,857.4 C1809.8,856.9 1828.1,849.4 1841.2,854.5 C1854.2,859.6 1876.9,879.1 1881.7,887.8 C1886.6,896.5 1873.5,899.2 1870.1,906.7 C1866.8,914.2 1865.3,925.3 1861.4,932.8 C1857.6,940.2 1853.0,951.6 1847.0,951.6 C1840.9,951.6 1831.7,941.2 1825.2,932.8 C1818.7,924.3 1810.7,906.2 1807.8,900.9 Z" fill="#22b6ac"/>
<path d="M1887.5,854.5 C1897.3,854.5 1936.2,835.7 1945.9,854.5 C1955.7,873.3 1950.4,948.2 1945.9,967.5 C1941.5,986.9 1928.7,970.9 1919.4,970.4 C1910.2,970.0 1896.2,968.0 1890.4,964.6 C1884.6,961.3 1883.2,955.9 1884.6,950.1 C1886.1,944.3 1895.7,938.1 1899.1,929.9 C1902.5,921.6 1904.0,905.7 1904.9,900.9 Z" fill="#22b6ac"/>
<path d="M1789.0,1060.3 C1791.9,1057.6 1798.6,1047.2 1806.4,1044.3 C1814.1,1041.4 1827.4,1041.0 1835.4,1042.9 C1843.3,1044.8 1848.4,1053.0 1854.2,1055.9 C1860.0,1058.8 1864.6,1057.6 1870.1,1060.3 C1875.7,1062.9 1884.4,1066.3 1887.5,1071.9 C1890.7,1077.4 1891.4,1087.8 1889.0,1093.6 C1886.6,1099.4 1887.3,1104.5 1873.0,1106.7 C1858.8,1108.8 1818.0,1110.0 1803.5,1106.7 C1789.0,1103.3 1789.0,1089.8 1786.1,1086.4 Z" fill="#21b2a8"/>
<path d="M1887.5,861.7 L1897.7,853.8" fill="none" stroke="#0a1a34" stroke-width="4"/>
<path d="M1897.7,868.3 L1907.8,860.3" fill="none" stroke="#0a1a34" stroke-width="4"/>
<path d="M1907.8,874.8 L1918.0,866.8" fill="none" stroke="#0a1a34" stroke-width="4"/>
<path d="M1918.0,881.3 L1928.1,873.3" fill="none" stroke="#0a1a34" stroke-width="4"/>
<path d="M1928.1,887.8 L1938.3,879.9" fill="none" stroke="#0a1a34" stroke-width="4"/>
<path d="M1938.3,894.3 L1948.4,886.4" fill="none" stroke="#0a1a34" stroke-width="4"/>
<path d="M1855.7,860.3 C1859.0,862.5 1870.1,868.7 1875.9,873.3 C1881.7,877.9 1885.6,886.1 1890.4,887.8 C1895.3,889.5 1895.7,880.1 1904.9,883.5 C1914.2,886.9 1939.1,904.0 1945.9,908.1" fill="none" stroke="#0a1a34" stroke-width="5"/>
<path d="M1887.5,854.5 C1890.4,856.9 1895.2,863.4 1904.9,869.0 C1914.7,874.5 1939.1,884.7 1945.9,887.8" fill="none" stroke="#0a1a34" stroke-width="4"/>
<ellipse cx="1886.1" cy="916.8" rx="14" ry="13" fill="#1590a8" stroke="#0a1a34" stroke-width="4"/>
<ellipse cx="1887.1" cy="916.8" rx="6" ry="6" fill="#1fb0c0" stroke="#0a1a34" stroke-width="3"/>
<path d="M1828.1,887.8 C1829.3,893.4 1831.3,911.3 1835.4,921.2 C1839.5,931.1 1847.4,945.3 1852.8,947.2 C1858.1,949.2 1863.4,940.5 1867.2,932.8 C1871.1,925.0 1874.5,906.2 1875.9,900.9" fill="none" stroke="#0a1a34" stroke-width="4"/>
<path d="M1887.5,950.1 C1889.5,946.8 1893.3,934.7 1899.1,929.9 C1904.9,925.0 1914.5,923.6 1922.3,921.2 C1930.1,918.7 1942.0,916.3 1945.9,915.4" fill="none" stroke="#0a1a34" stroke-width="4"/>
<path d="M1884.6,966.1 C1888.0,965.4 1894.7,961.7 1904.9,961.7 C1915.1,961.7 1939.1,965.4 1945.9,966.1" fill="none" stroke="#0a1a34" stroke-width="4"/>
<path d="M1849.8,995.9 l3.0,13.9" stroke="#0a1a34" stroke-width="3.8" fill="none"/>
<path d="M1873.0,902.2 l0.2,10.1" stroke="#0a1a34" stroke-width="4.5" fill="none"/>
<path d="M1787.6,1058.4 l7.9,9.0" stroke="#0a1a34" stroke-width="5.0" fill="none"/>
<path d="M1937.9,1019.5 l6.1,9.3" stroke="#0a1a34" stroke-width="2.5" fill="none"/>
<path d="M1862.9,870.9 l3.2,6.1" stroke="#0a1a34" stroke-width="2.6" fill="none"/>
<path d="M1851.8,966.1 l2.0,13.3" stroke="#0a1a34" stroke-width="4.1" fill="none"/>
<path d="M1858.0,1021.6 l4.1,8.7" stroke="#0a1a34" stroke-width="5.0" fill="none"/>
<path d="M1943.3,1066.1 l4.6,11.2" stroke="#0a1a34" stroke-width="3.1" fill="none"/>
<path d="M1821.7,873.6 l3.6,12.1" stroke="#0a1a34" stroke-width="4.6" fill="none"/>
<path d="M1838.5,1095.5 l2.5,4.3" stroke="#0a1a34" stroke-width="4.8" fill="none"/>
<path d="M1852.8,1101.1 l5.7,7.0" stroke="#0a1a34" stroke-width="4.1" fill="none"/>
<path d="M1905.9,923.4 l2.1,5.5" stroke="#0a1a34" stroke-width="4.9" fill="none"/>
<path d="M1902.4,885.5 l4.5,5.9" stroke="#0a1a34" stroke-width="2.6" fill="none"/>
<path d="M1909.1,900.4 l2.5,10.3" stroke="#0a1a34" stroke-width="3.0" fill="none"/>
<path d="M1897.9,888.7 l6.7,9.2" stroke="#0a1a34" stroke-width="3.6" fill="none"/>
<path d="M1939.0,1056.9 l-2.3,7.7" stroke="#0a1a34" stroke-width="3.0" fill="none"/>
<path d="M1789.3,1103.3 l3.2,6.4" stroke="#0a1a34" stroke-width="4.4" fill="none"/>
<path d="M1784.6,878.5 l5.0,9.6" stroke="#0a1a34" stroke-width="4.0" fill="none"/>
<path d="M1798.5,1083.1 l3.9,6.4" stroke="#0a1a34" stroke-width="4.3" fill="none"/>
<path d="M1933.7,905.1 l-4.1,13.9" stroke="#0a1a34" stroke-width="4.0" fill="none"/>
<path d="M1844.5,882.0 l-2.0,5.0" stroke="#0a1a34" stroke-width="3.1" fill="none"/>
<path d="M1893.2,920.2 l0.7,13.2" stroke="#0a1a34" stroke-width="3.2" fill="none"/>
<path d="M1802.2,1036.1 l2.7,5.0" stroke="#0a1a34" stroke-width="3.9" fill="none"/>
<path d="M1774.9,923.3 l6.1,7.2" stroke="#0a1a34" stroke-width="2.9" fill="none"/>
<path d="M1835.4,999.0 l2.1,6.0" stroke="#0a1a34" stroke-width="4.7" fill="none"/>
<path d="M1940.6,1020.2 l0.8,11.9" stroke="#0a1a34" stroke-width="2.9" fill="none"/>
<path d="M1778.0,860.5 l-1.0,14.1" stroke="#0a1a34" stroke-width="4.9" fill="none"/>
<path d="M1775.7,1015.0 l-1.0,9.8" stroke="#0a1a34" stroke-width="3.3" fill="none"/>
<path d="M1943.9,874.8 l-1.2,10.4" stroke="#0a1a34" stroke-width="4.8" fill="none"/>
<path d="M1898.8,1031.9 l-4.2,12.2" stroke="#0a1a34" stroke-width="3.4" fill="none"/>
<path d="M1889.8,1081.2 l-1.6,9.0" stroke="#0a1a34" stroke-width="4.7" fill="none"/>
<path d="M1870.5,1012.2 l0.6,8.8" stroke="#0a1a34" stroke-width="4.0" fill="none"/>
<path d="M1785.8,1015.9 l-4.2,14.3" stroke="#0a1a34" stroke-width="4.3" fill="none"/>
<path d="M1838.8,1039.8 l2.6,10.5" stroke="#0a1a34" stroke-width="4.6" fill="none"/>
<path d="M1786.4,1043.6 l0.3,5.3" stroke="#0a1a34" stroke-width="3.7" fill="none"/>
<path d="M1811.6,1030.6 l0.3,10.0" stroke="#0a1a34" stroke-width="4.8" fill="none"/>
<path d="M1816.0,858.8 l-0.3,8.0" stroke="#0a1a34" stroke-width="3.0" fill="none"/>
<path d="M1886.5,905.6 l-1.8,9.1" stroke="#0a1a34" stroke-width="4.8" fill="none"/>
<path d="M1923.4,952.1 l4.1,10.0" stroke="#0a1a34" stroke-width="2.8" fill="none"/>
<path d="M1857.4,1065.3 l-4.4,11.3" stroke="#0a1a34" stroke-width="3.2" fill="none"/>
<path d="M1819.3,909.5 l0.2,9.1" stroke="#0a1a34" stroke-width="3.7" fill="none"/>
<path d="M1826.2,1065.8 l6.0,7.4" stroke="#0a1a34" stroke-width="2.6" fill="none"/>
<path d="M1922.1,866.4 l1.0,12.0" stroke="#0a1a34" stroke-width="3.3" fill="none"/>
<path d="M1908.1,860.8 l1.4,6.2" stroke="#0a1a34" stroke-width="2.6" fill="none"/>
<path d="M1914.7,915.4 l4.2,4.8" stroke="#0a1a34" stroke-width="4.1" fill="none"/>
<path d="M1848.8,1013.5 l-2.3,11.3" stroke="#0a1a34" stroke-width="4.9" fill="none"/>
<path d="M1889.7,905.8 l5.1,8.3" stroke="#0a1a34" stroke-width="2.5" fill="none"/>
<path d="M1853.2,1034.5 l2.9,6.1" stroke="#0a1a34" stroke-width="3.4" fill="none"/>
<path d="M1908.2,1082.6 l-2.0,5.5" stroke="#0a1a34" stroke-width="4.3" fill="none"/>
<path d="M1869.8,1075.8 l3.1,14.1" stroke="#0a1a34" stroke-width="4.1" fill="none"/>
<path d="M1807.2,1036.5 l0.0,13.2" stroke="#0a1a34" stroke-width="4.3" fill="none"/>
<path d="M1808.7,1081.0 l1.9,14.7" stroke="#0a1a34" stroke-width="4.5" fill="none"/>
<path d="M1827.1,1083.5 l5.3,6.6" stroke="#0a1a34" stroke-width="3.6" fill="none"/>
<path d="M1776.9,1058.3 l-1.1,5.5" stroke="#0a1a34" stroke-width="2.9" fill="none"/>
<path d="M1896.5,1066.0 l-4.2,11.1" stroke="#0a1a34" stroke-width="3.7" fill="none"/>
<path d="M1935.3,877.5 l1.0,7.1" stroke="#0a1a34" stroke-width="3.2" fill="none"/>
<path d="M1897.4,1015.7 l-2.4,9.9" stroke="#0a1a34" stroke-width="3.9" fill="none"/>
<path d="M1917.4,1081.1 l-1.8,6.9" stroke="#0a1a34" stroke-width="4.9" fill="none"/>
<path d="M1862.2,999.2 l0.9,7.0" stroke="#0a1a34" stroke-width="3.8" fill="none"/>
<path d="M1876.1,862.9 l2.2,14.5" stroke="#0a1a34" stroke-width="3.5" fill="none"/>
<path d="M1856.5,1028.7 l0.7,5.6" stroke="#0a1a34" stroke-width="3.5" fill="none"/>
<path d="M1936.6,1086.9 l1.6,7.5" stroke="#0a1a34" stroke-width="2.8" fill="none"/>
<path d="M1846.6,1059.9 l3.7,9.0" stroke="#0a1a34" stroke-width="3.0" fill="none"/>
<path d="M1906.0,861.7 l3.3,6.1" stroke="#0a1a34" stroke-width="4.2" fill="none"/>
<path d="M1878.6,882.2 l7.2,10.0" stroke="#0a1a34" stroke-width="3.8" fill="none"/>
<path d="M1815.1,905.4 l2.5,10.0" stroke="#0a1a34" stroke-width="3.4" fill="none"/>
<path d="M1799.5,907.1 l0.1,11.3" stroke="#0a1a34" stroke-width="3.8" fill="none"/>
<path d="M1919.4,914.2 l-2.5,12.2" stroke="#0a1a34" stroke-width="4.8" fill="none"/>
<path d="M1930.7,910.5 l-4.3,14.3" stroke="#0a1a34" stroke-width="2.8" fill="none"/>
<path d="M1813.2,1037.6 l4.6,6.0" stroke="#0a1a34" stroke-width="4.6" fill="none"/>
<path d="M1841.3,1027.3 l2.6,4.5" stroke="#0a1a34" stroke-width="4.2" fill="none"/>
<path d="M1928.8,1098.1 l1.0,6.1" stroke="#0a1a34" stroke-width="4.4" fill="none"/>
<path d="M1858.5,1027.4 l4.4,5.3" stroke="#0a1a34" stroke-width="2.8" fill="none"/>
<path d="M1778.4,993.9 l0.9,10.1" stroke="#0a1a34" stroke-width="2.9" fill="none"/>
<path d="M1803.7,907.0 l-5.4,12.3" stroke="#0a1a34" stroke-width="4.8" fill="none"/>
<path d="M1788.4,871.5 l3.1,14.2" stroke="#0a1a34" stroke-width="4.4" fill="none"/>
<path d="M1860.6,963.5 l7.5,8.0" stroke="#0a1a34" stroke-width="4.3" fill="none"/>
<path d="M1917.2,901.3 l-1.1,9.5" stroke="#0a1a34" stroke-width="3.5" fill="none"/>
<path d="M1805.6,897.3 l6.9,7.4" stroke="#0a1a34" stroke-width="4.7" fill="none"/>
<path d="M1909.9,1032.2 l0.2,13.6" stroke="#0a1a34" stroke-width="3.5" fill="none"/>
<path d="M1875.1,982.1 l-2.9,14.5" stroke="#0a1a34" stroke-width="3.1" fill="none"/>
<path d="M1928.7,1042.1 l-2.6,12.5" stroke="#0a1a34" stroke-width="3.5" fill="none"/>
<path d="M1926.2,1076.0 l-1.8,11.8" stroke="#0a1a34" stroke-width="4.4" fill="none"/>
<path d="M1841.8,1036.7 l2.0,5.3" stroke="#0a1a34" stroke-width="3.7" fill="none"/>
<path d="M1773.8,944.9 l0.3,11.4" stroke="#0a1a34" stroke-width="3.1" fill="none"/>
<path d="M1934.5,1022.5 l-0.2,8.4" stroke="#0a1a34" stroke-width="3.9" fill="none"/>
<path d="M1863.7,953.4 l0.0,15.0" stroke="#0a1a34" stroke-width="4.3" fill="none"/>
<path d="M1903.0,1101.0 l0.2,5.2" stroke="#0a1a34" stroke-width="4.3" fill="none"/>
<path d="M1780.7,904.9 l5.3,7.0" stroke="#0a1a34" stroke-width="3.1" fill="none"/>
<path d="M1943.2,1015.5 l8.2,10.2" stroke="#0a1a34" stroke-width="4.0" fill="none"/>
<path d="M1902.6,867.3 l7.8,12.0" stroke="#0a1a34" stroke-width="3.7" fill="none"/>
<path d="M1877.1,870.6 l3.8,13.9" stroke="#0a1a34" stroke-width="3.8" fill="none"/>
<path d="M1874.8,947.4 l-0.1,7.9" stroke="#0a1a34" stroke-width="3.9" fill="none"/>
<path d="M1820.8,1035.2 l5.4,5.8" stroke="#0a1a34" stroke-width="3.1" fill="none"/>
<path d="M1779.4,895.1 l3.7,12.0" stroke="#0a1a34" stroke-width="4.7" fill="none"/>
<path d="M1900.7,868.5 l-5.3,13.9" stroke="#0a1a34" stroke-width="2.7" fill="none"/>
<path d="M1927.8,963.4 l-3.8,9.0" stroke="#0a1a34" stroke-width="3.1" fill="none"/>
<path d="M1862.0,1090.3 l-3.8,8.9" stroke="#0a1a34" stroke-width="4.5" fill="none"/>
<path d="M1875.8,884.8 l2.5,11.0" stroke="#0a1a34" stroke-width="3.0" fill="none"/>
<path d="M1817.1,1001.6 l-1.5,9.1" stroke="#0a1a34" stroke-width="3.8" fill="none"/>
<path d="M1943.6,1094.2 l5.8,10.9" stroke="#0a1a34" stroke-width="2.8" fill="none"/>
<path d="M1925.5,1052.1 l3.7,10.6" stroke="#0a1a34" stroke-width="3.2" fill="none"/>
<path d="M1873.8,1014.3 l6.5,10.7" stroke="#0a1a34" stroke-width="3.1" fill="none"/>
<path d="M1940.5,1084.9 l9.1,10.3" stroke="#0a1a34" stroke-width="2.7" fill="none"/>
<path d="M1879.2,881.6 l6.6,8.1" stroke="#0a1a34" stroke-width="2.7" fill="none"/>
<path d="M1880.6,949.3 l4.8,8.5" stroke="#0a1a34" stroke-width="3.4" fill="none"/>
<path d="M1900.1,1065.6 l3.4,4.7" stroke="#0a1a34" stroke-width="4.5" fill="none"/>
<path d="M1911.3,948.2 l-4.7,10.6" stroke="#0a1a34" stroke-width="3.3" fill="none"/>
<path d="M1866.4,1042.5 l3.0,8.8" stroke="#0a1a34" stroke-width="2.7" fill="none"/>
<path d="M1922.5,875.6 l0.5,5.8" stroke="#0a1a34" stroke-width="3.7" fill="none"/>
<path d="M1784.6,911.0 L1807.8,921.2 L1841.2,950.1 L1847.0,955.9 L1841.2,955.9 L1797.7,925.5 L1787.5,927.0 Z" fill="#060c20"/>
<path d="M1844.1,953.0 L1883.2,970.4 L1890.4,973.3 L1883.2,984.9 L1880.3,990.7 L1854.2,983.5 L1844.1,974.8 L1841.2,964.6 Z" fill="#060c20"/>
<ellipse cx="1867.2" cy="960.3" rx="12" ry="6" fill="#1590a0"/>
<path d="M1781.7,950.1 L1797.7,925.5 L1841.2,955.9 L1844.1,967.5 L1835.4,982.0 L1810.7,979.1 L1784.6,960.3 Z" fill="#f0e21c" stroke="#0a1428" stroke-width="2"/>
<defs><radialGradient id="gIris"><stop offset="0" stop-color="#9a9a90"/><stop offset="0.6" stop-color="#b0a878"/><stop offset="1" stop-color="#d8c83c"/></radialGradient></defs>
<ellipse cx="1810.0" cy="957.4" rx="20" ry="14.5" fill="url(#gIris)" transform="rotate(14 1810.0 957.4)"/>
<circle cx="1809.5" cy="956.9" r="5" fill="#0a2038"/><circle cx="1809.5" cy="956.9" r="2.8" fill="#e02030"/>
<path d="M1883.2,984.9 L1890.4,973.3 L1948.4,973.3 L1948.4,1009.6 L1904.9,1012.5 L1887.5,1002.3 Z" fill="#f0e21c" stroke="#0a1428" stroke-width="2"/>
<ellipse cx="1922.3" cy="992.2" rx="26" ry="15.5" fill="url(#gIris)"/>
<circle cx="1922.3" cy="992.2" r="5" fill="#0a2038"/><circle cx="1922.3" cy="992.2" r="2.8" fill="#e02030"/>
<path d="M1831,1008 C1838,1001 1850,1001 1856,1006 L1864,1014" fill="none" stroke="#0a1428" stroke-width="5.5"/>
<path d="M1786.1,1086.4 C1785.8,1083.0 1781.7,1072.9 1784.6,1066.1 C1787.5,1059.3 1795.5,1049.7 1803.5,1045.8 C1811.4,1041.9 1824.3,1041.4 1832.5,1042.9 C1840.7,1044.3 1847.9,1050.6 1852.8,1054.5 C1857.6,1058.4 1860.0,1064.2 1861.4,1066.1" fill="none" stroke="#0a2a44" stroke-width="4.5"/>
<path d="M1852.8,1069.0 C1855.7,1067.5 1864.3,1059.8 1870.1,1060.3 C1875.9,1060.8 1884.4,1066.3 1887.5,1071.9 C1890.7,1077.4 1891.4,1087.8 1889.0,1093.6 C1886.6,1099.4 1875.7,1104.5 1873.0,1106.7" fill="none" stroke="#0a2a44" stroke-width="4.5"/>
<path d="M1815.1,1032.8 C1819.4,1032.8 1833.4,1030.6 1841.2,1032.8 C1848.9,1034.9 1858.1,1043.6 1861.4,1045.8" fill="none" stroke="#0a2a44" stroke-width="4"/>
<path d="M1907.8,1038.6 C1904.4,1038.8 1891.9,1038.1 1887.5,1040.0 C1883.2,1041.9 1881.3,1047.2 1881.7,1050.1 C1882.2,1053.0 1885.4,1056.7 1890.4,1057.4 C1895.5,1058.1 1906.1,1056.9 1912.2,1054.5 C1918.2,1052.1 1924.3,1044.8 1926.7,1042.9" fill="none" stroke="#0a2a44" stroke-width="4"/>
<path d="M1945.9,1028.4 C1942.7,1029.1 1931.1,1030.3 1926.7,1032.8 C1922.2,1035.2 1920.6,1041.2 1919.4,1042.9" fill="none" stroke="#0a2a44" stroke-width="4"/>
<path d="M1890.4,1086.4 C1894.1,1084.9 1902.9,1078.6 1912.2,1077.7 C1921.4,1076.7 1940.3,1080.1 1945.9,1080.6" fill="none" stroke="#0a2a44" stroke-width="4"/>
<path d="M1793.3,1066.1 L1807.8,1063.2 L1820.9,1086.4 L1818.0,1100.9 L1803.5,1092.2 Z" fill="#06142a"/>
<path d="M1799.1,1073.3 L1807.8,1071.9 L1818.0,1092.2 L1815.1,1096.5 L1804.9,1089.3 Z" fill="#f04058"/>
<path d="M1829.6,1092.2 L1847.0,1084.9 L1864.3,1092.2 L1861.4,1100.9 L1835.4,1102.3 Z" fill="#06142a"/>
<ellipse cx="1846.2" cy="1094.3" rx="14" ry="5.5" fill="#f04058" transform="rotate(-5 1846.2 1094.3)"/>
</g>
<g id="dring" clip-path="url(#cpRing)" fill="none" stroke-linecap="butt" stroke-linejoin="round">
<path d="M786.0,852.0 L787.8,846.3 L790.2,841.1 L793.1,836.4 L796.7,832.3 L800.8,828.6 L805.5,825.5 L810.8,822.9 L816.7,820.7 L823.1,819.1 L830.2,817.9 L837.8,817.2 L846.0,817.0 L853.4,817.2 L860.7,817.7 L867.7,818.5 L874.6,819.6 L881.4,821.1 L887.9,822.8 L894.3,824.9 L900.5,827.2 L906.5,829.8 L912.3,832.6 L917.9,835.8 L923.3,839.2 L928.6,842.8 L933.6,846.7 L938.4,850.8 L943.1,855.1 L947.5,859.7 L951.8,864.4 L955.8,869.4 L959.6,874.6 L963.2,879.9 L966.6,885.4 L969.7,891.1 L972.7,897.0 L975.4,903.0 L977.9,909.2 L980.2,915.5 L982.2,922.0 L984.0,928.5 L985.6,935.2 L986.9,942.0 L988.0,949.0 L988.9,956.0 L989.5,963.1 L989.9,970.2 L990.0,977.5 L989.9,984.8 L989.5,991.9 L988.9,999.0 L988.0,1006.0 L986.9,1013.0 L985.6,1019.8 L984.0,1026.5 L982.2,1033.0 L980.2,1039.5 L977.9,1045.8 L975.4,1052.0 L972.7,1058.0 L969.7,1063.9 L966.6,1069.6 L963.2,1075.1 L959.6,1080.4 L955.8,1085.6 L951.8,1090.6 L947.5,1095.3 L943.1,1099.9 L938.4,1104.2 L933.6,1108.3 L928.6,1112.2 L923.3,1115.8 L917.9,1119.2 L912.3,1122.4 L906.5,1125.2 L900.5,1127.8 L894.3,1130.1 L887.9,1132.2 L881.4,1133.9 L874.6,1135.4 L867.7,1136.5 L860.7,1137.3 L853.4,1137.8 L846.0,1138.0 L837.7,1137.8 L830.0,1137.3 L822.8,1136.4 L816.0,1135.1 L809.7,1133.4 L804.0,1131.2 L798.8,1128.6 L794.0,1125.6 L789.8,1122.0 L786.0,1117.9 L782.8,1113.2 L780.0,1108.0" stroke="#a6a49e" stroke-width="27.3"/>
<path d="M787.0,852.2 L788.7,846.6 L791.0,841.5 L793.9,837.0 L797.4,833.0 L801.4,829.4 L806.0,826.4 L811.2,823.8 L817.0,821.7 L823.3,820.1 L830.3,818.9 L837.8,818.2 L846.0,818.0 L853.4,818.2 L860.6,818.7 L867.6,819.5 L874.5,820.6 L881.1,822.0 L887.6,823.8 L894.0,825.8 L900.1,828.1 L906.0,830.7 L911.8,833.5 L917.4,836.6 L922.8,840.0 L928.0,843.6 L933.0,847.5 L937.8,851.5 L942.4,855.8 L946.8,860.4 L951.0,865.1 L955.0,870.0 L958.8,875.1 L962.3,880.4 L965.7,885.9 L968.8,891.6 L971.8,897.4 L974.5,903.4 L977.0,909.6 L979.2,915.8 L981.2,922.2 L983.0,928.8 L984.6,935.4 L985.9,942.2 L987.0,949.1 L987.9,956.1 L988.5,963.1 L988.9,970.3 L989.0,977.5 L988.9,984.7 L988.5,991.9 L987.9,998.9 L987.0,1005.9 L985.9,1012.8 L984.6,1019.6 L983.0,1026.2 L981.2,1032.8 L979.2,1039.2 L977.0,1045.4 L974.5,1051.6 L971.8,1057.6 L968.8,1063.4 L965.7,1069.1 L962.3,1074.6 L958.8,1079.9 L955.0,1085.0 L951.0,1089.9 L946.8,1094.6 L942.4,1099.2 L937.8,1103.5 L933.0,1107.5 L928.0,1111.4 L922.8,1115.0 L917.4,1118.4 L911.8,1121.5 L906.0,1124.3 L900.1,1126.9 L894.0,1129.2 L887.6,1131.2 L881.1,1133.0 L874.5,1134.4 L867.6,1135.5 L860.6,1136.3 L853.4,1136.8 L846.0,1137.0 L837.8,1136.8 L830.1,1136.3 L822.9,1135.4 L816.2,1134.1 L810.1,1132.4 L804.4,1130.3 L799.2,1127.8 L794.6,1124.8 L790.4,1121.2 L786.8,1117.2 L783.6,1112.7 L780.9,1107.6" stroke="#c4c4c2" stroke-width="24.0"/>
<path d="M788.8,852.7 L790.5,847.3 L792.7,842.4 L795.4,838.1 L798.7,834.3 L802.5,830.9 L806.9,828.0 L811.9,825.5 L817.5,823.5 L823.7,821.9 L830.5,820.8 L838.0,820.1 L846.0,819.9 L853.3,820.0 L860.4,820.5 L867.3,821.3 L874.1,822.4 L880.7,823.8 L887.1,825.5 L893.3,827.5 L899.4,829.8 L905.3,832.4 L911.0,835.2 L916.5,838.2 L921.8,841.5 L926.9,845.1 L931.8,848.9 L936.6,852.9 L941.1,857.2 L945.4,861.6 L949.6,866.3 L953.5,871.1 L957.3,876.2 L960.8,881.4 L964.1,886.9 L967.2,892.5 L970.1,898.2 L972.8,904.1 L975.2,910.2 L977.5,916.4 L979.5,922.8 L981.2,929.2 L982.8,935.8 L984.1,942.5 L985.2,949.3 L986.1,956.3 L986.7,963.3 L987.0,970.3 L987.1,977.5 L987.0,984.7 L986.7,991.7 L986.1,998.7 L985.2,1005.7 L984.1,1012.5 L982.8,1019.2 L981.2,1025.8 L979.5,1032.2 L977.5,1038.6 L975.2,1044.8 L972.8,1050.9 L970.1,1056.8 L967.2,1062.5 L964.1,1068.1 L960.8,1073.6 L957.3,1078.8 L953.5,1083.9 L949.6,1088.7 L945.4,1093.4 L941.1,1097.8 L936.6,1102.1 L931.8,1106.1 L926.9,1109.9 L921.8,1113.5 L916.5,1116.8 L911.0,1119.8 L905.3,1122.6 L899.4,1125.2 L893.3,1127.5 L887.1,1129.5 L880.7,1131.2 L874.1,1132.6 L867.3,1133.7 L860.4,1134.5 L853.3,1135.0 L846.0,1135.2 L837.9,1135.0 L830.3,1134.5 L823.2,1133.6 L816.6,1132.3 L810.6,1130.7 L805.1,1128.6 L800.2,1126.2 L795.7,1123.3 L791.7,1119.9 L788.2,1116.1 L785.2,1111.7 L782.6,1106.8" stroke="#8a8987" stroke-width="8.3"/>
<path d="M791.3,853.3 L792.9,848.2 L795.0,843.7 L797.6,839.7 L800.6,836.1 L804.1,833.0 L808.2,830.3 L812.9,827.9 L818.3,826.0 L824.2,824.5 L830.9,823.4 L838.1,822.7 L846.0,822.5 L853.2,822.7 L860.2,823.1 L867.0,823.9 L873.6,825.0 L880.1,826.4 L886.4,828.1 L892.5,830.0 L898.4,832.3 L904.2,834.8 L909.7,837.5 L915.1,840.5 L920.3,843.8 L925.3,847.2 L930.1,851.0 L934.8,854.9 L939.2,859.1 L943.5,863.4 L947.6,868.0 L951.4,872.8 L955.1,877.7 L958.5,882.9 L961.8,888.2 L964.9,893.7 L967.7,899.4 L970.3,905.2 L972.7,911.2 L974.9,917.3 L976.9,923.5 L978.7,929.9 L980.2,936.4 L981.5,943.0 L982.6,949.7 L983.4,956.5 L984.0,963.4 L984.4,970.4 L984.5,977.5 L984.4,984.6 L984.0,991.6 L983.4,998.5 L982.6,1005.3 L981.5,1012.0 L980.2,1018.6 L978.7,1025.1 L976.9,1031.5 L974.9,1037.7 L972.7,1043.8 L970.3,1049.8 L967.7,1055.6 L964.9,1061.3 L961.8,1066.8 L958.5,1072.1 L955.1,1077.3 L951.4,1082.2 L947.6,1087.0 L943.5,1091.6 L939.2,1095.9 L934.8,1100.1 L930.1,1104.0 L925.3,1107.8 L920.3,1111.2 L915.1,1114.5 L909.7,1117.5 L904.2,1120.2 L898.4,1122.7 L892.5,1125.0 L886.4,1126.9 L880.1,1128.6 L873.6,1130.0 L867.0,1131.1 L860.2,1131.9 L853.2,1132.3 L846.0,1132.5 L838.0,1132.3 L830.5,1131.8 L823.6,1131.0 L817.2,1129.8 L811.4,1128.2 L806.2,1126.2 L801.5,1123.9 L797.3,1121.1 L793.6,1118.0 L790.3,1114.4 L787.4,1110.4 L785.0,1105.7" stroke="#6a6967" stroke-width="1.6"/>
<path d="M782.0,851.0 L783.9,844.8 L786.5,839.1 L789.8,833.9 L793.7,829.3 L798.3,825.3 L803.4,821.9 L809.2,819.1 L815.5,816.8 L822.3,815.0 L829.6,813.8 L837.5,813.1 L846.0,812.9 L853.6,813.0 L861.0,813.5 L868.3,814.4 L875.4,815.5 L882.3,817.0 L889.1,818.8 L895.6,820.9 L902.0,823.3 L908.2,826.0 L914.2,829.0 L920.0,832.2 L925.6,835.7 L931.0,839.5 L936.2,843.5 L941.2,847.7 L946.0,852.2 L950.6,856.8 L954.9,861.8 L959.1,866.9 L963.0,872.2 L966.7,877.7 L970.1,883.3 L973.4,889.2 L976.4,895.2 L979.2,901.4 L981.8,907.7 L984.1,914.2 L986.2,920.8 L988.0,927.5 L989.6,934.4 L991.0,941.3 L992.1,948.4 L993.0,955.5 L993.6,962.8 L994.0,970.1 L994.1,977.5 L994.0,984.9 L993.6,992.2 L993.0,999.5 L992.1,1006.6 L991.0,1013.7 L989.6,1020.6 L988.0,1027.5 L986.2,1034.2 L984.1,1040.8 L981.8,1047.3 L979.2,1053.6 L976.4,1059.8 L973.4,1065.8 L970.1,1071.7 L966.7,1077.3 L963.0,1082.8 L959.1,1088.1 L954.9,1093.2 L950.6,1098.2 L946.0,1102.8 L941.2,1107.3 L936.2,1111.5 L931.0,1115.5 L925.6,1119.3 L920.0,1122.8 L914.2,1126.0 L908.2,1129.0 L902.0,1131.7 L895.6,1134.1 L889.1,1136.2 L882.3,1138.0 L875.4,1139.5 L868.3,1140.6 L861.0,1141.5 L853.6,1142.0 L846.0,1142.2 L837.6,1142.0 L829.6,1141.4 L822.1,1140.5 L815.1,1139.2 L808.5,1137.4 L802.4,1135.1 L796.7,1132.2 L791.5,1128.9 L786.9,1125.0 L782.8,1120.5 L779.2,1115.4 L776.2,1109.7" stroke="#f3f3f3" stroke-width="5.7"/>
<path d="M777.1,849.8 L779.2,843.0 L782.1,836.7 L785.7,830.9 L790.1,825.8 L795.2,821.3 L800.9,817.5 L807.2,814.4 L814.0,811.9 L821.2,810.1 L829.0,808.8 L837.3,808.0 L846.0,807.8 L853.8,808.0 L861.5,808.5 L869.0,809.4 L876.4,810.6 L883.5,812.1 L890.5,814.0 L897.3,816.2 L903.9,818.6 L910.3,821.4 L916.6,824.5 L922.6,827.9 L928.4,831.5 L934.0,835.4 L939.4,839.5 L944.6,843.9 L949.5,848.6 L954.3,853.4 L958.8,858.5 L963.0,863.8 L967.1,869.3 L970.9,874.9 L974.5,880.8 L977.9,886.8 L981.0,893.0 L983.8,899.4 L986.5,905.9 L988.9,912.6 L991.0,919.3 L992.9,926.3 L994.6,933.3 L996.0,940.4 L997.1,947.7 L998.0,955.0 L998.7,962.4 L999.1,969.9 L999.2,977.5 L999.1,985.1 L998.7,992.6 L998.0,1000.0 L997.1,1007.3 L996.0,1014.6 L994.6,1021.7 L992.9,1028.7 L991.0,1035.7 L988.9,1042.4 L986.5,1049.1 L983.8,1055.6 L981.0,1062.0 L977.9,1068.2 L974.5,1074.2 L970.9,1080.1 L967.1,1085.7 L963.0,1091.2 L958.8,1096.5 L954.3,1101.6 L949.5,1106.4 L944.6,1111.1 L939.4,1115.5 L934.0,1119.6 L928.4,1123.5 L922.6,1127.1 L916.6,1130.5 L910.3,1133.6 L903.9,1136.4 L897.3,1138.8 L890.5,1141.0 L883.5,1142.9 L876.4,1144.4 L869.0,1145.6 L861.5,1146.5 L853.8,1147.0 L846.0,1147.2 L837.4,1147.0 L829.1,1146.5 L821.3,1145.5 L813.9,1144.1 L806.9,1142.2 L800.4,1139.7 L794.2,1136.6 L788.5,1132.9 L783.4,1128.6 L778.8,1123.6 L774.9,1118.0 L771.6,1111.8" stroke="#c2bfb8" stroke-width="3.4"/>
<path d="M924.3,825.0 L930.2,828.7 L935.9,832.7 L941.5,837.0 L946.8,841.5 L951.8,846.2 L956.7,851.2 L961.3,856.4 L965.7,861.8 L969.8,867.4 L973.7,873.2 L977.4,879.1 L980.8,885.3 L984.0,891.6 L986.9,898.1 L989.6,904.7 L992.0,911.5 L994.2,918.4 L996.1,925.4 L997.8,932.6 L999.2,939.8 L1000.4,947.2 L1001.3,954.7 L1002.0,962.2 L1002.4,969.8 L1002.5,977.5 L1002.4,985.2 L1002.0,992.8 L1001.3,1000.3 L1000.4,1007.8 L999.2,1015.2 L997.8,1022.4 L996.1,1029.6 L994.2,1036.6 L992.0,1043.5 L989.6,1050.3 L986.9,1056.9 L984.0,1063.4 L980.8,1069.7 L977.4,1075.9 L973.7,1081.8 L969.8,1087.6 L965.7,1093.2 L961.3,1098.6 L956.7,1103.8 L951.8,1108.8 L946.8,1113.5 L941.5,1118.0 L935.9,1122.3 L930.2,1126.3 L924.3,1130.0 L918.1,1133.4 L911.7,1136.6 L905.2,1139.4 L898.4,1142.0 L891.4,1144.2 L884.3,1146.1 L877.0,1147.7 L869.5,1148.9 L861.8,1149.8 L854.0,1150.3 L846.0,1150.5 L837.2,1150.3 L828.8,1149.8 L820.8,1148.8 L813.2,1147.3 L805.9,1145.3 L799.0,1142.7 L792.6,1139.5 L786.6,1135.6 L781.1,1131.0 L776.2,1125.7 L772.1,1119.7 L768.6,1113.2" stroke="#2c2c2c" stroke-width="2.4"/>
<path d="M798.6,855.2 L799.9,850.9 L801.6,847.3 L803.6,844.1 L805.9,841.4 L808.7,839.0 L812.0,836.8 L815.9,834.8 L820.5,833.2 L825.8,831.8 L831.8,830.8 L838.5,830.2 L846.0,830.0 L852.8,830.2 L859.5,830.6 L865.9,831.4 L872.2,832.4 L878.3,833.7 L884.3,835.3 L890.0,837.1 L895.6,839.2 L901.0,841.6 L906.2,844.2 L911.3,847.0 L916.2,850.0 L920.9,853.3 L925.4,856.8 L929.8,860.5 L934.0,864.4 L938.0,868.5 L941.8,872.8 L945.5,877.4 L949.0,882.1 L952.2,886.9 L955.3,892.0 L958.2,897.2 L960.9,902.6 L963.4,908.1 L965.7,913.8 L967.8,919.7 L969.7,925.6 L971.4,931.7 L972.9,938.0 L974.1,944.3 L975.2,950.8 L976.0,957.3 L976.5,964.0 L976.9,970.7 L977.0,977.5 L976.9,984.3 L976.5,991.0 L976.0,997.7 L975.2,1004.2 L974.1,1010.7 L972.9,1017.0 L971.4,1023.3 L969.7,1029.4 L967.8,1035.3 L965.7,1041.2 L963.4,1046.9 L960.9,1052.4 L958.2,1057.8 L955.3,1063.0 L952.2,1068.1 L949.0,1072.9 L945.5,1077.6 L941.8,1082.2 L938.0,1086.5 L934.0,1090.6 L929.8,1094.5 L925.4,1098.2 L920.9,1101.7 L916.2,1105.0 L911.3,1108.0 L906.2,1110.8 L901.0,1113.4 L895.6,1115.8 L890.0,1117.9 L884.3,1119.7 L878.3,1121.3 L872.2,1122.6 L865.9,1123.6 L859.5,1124.4 L852.8,1124.8 L846.0,1125.0 L838.3,1124.8 L831.2,1124.4 L824.8,1123.6 L818.9,1122.4 L813.7,1121.0 L809.2,1119.3 L805.2,1117.3 L801.7,1115.1 L798.8,1112.6 L796.2,1109.7 L793.9,1106.5 L791.8,1102.6" stroke="#3a3a3a" stroke-width="1.4"/>
</g>
<g id="slider" transform="matrix(1 0 0.0078 1 -7.62 0)">
<!-- crescent fill (centre bar seen behind) -->
<rect x="1630" y="836" width="114" height="13" fill="#2f2f2f"/>
<rect x="1630" y="1106" width="114" height="15" fill="#2f2f2f"/>
<path d="M1638,838 L1654,836 L1652,840 L1640,841 Z" fill="#e8e8e8"/>
<g fill="none" stroke="#2a2a2a">
<rect x="1617" y="827.3" width="70" height="303" rx="34" stroke-width="18.5"/>
<rect x="1690.5" y="825.5" width="67.5" height="305" rx="33" stroke-width="20"/>
</g>
<g fill="none" stroke="#484848" stroke-width="1.8" opacity="0.9">
<rect x="1617" y="827.3" width="70" height="303" rx="34"/>
<rect x="1690.5" y="825.5" width="67.5" height="305" rx="33"/>
</g>
<g clip-path="url(#cpWin)">
<rect x="1620" y="841" width="140" height="271" fill="#161616"/>
<g clip-path="url(#cpWinArt)">
<g id="winArt">
<rect x="1620" y="848" width="140" height="262" fill="#0d5f6a"/>
<ellipse cx="1703.5" cy="1040.0" rx="15.7" ry="9.7" transform="rotate(133 1703.5 1040.0)" fill="#081428"/>
<ellipse cx="1738.8" cy="863.2" rx="12.1" ry="9.7" transform="rotate(117 1738.8 863.2)" fill="#081428"/>
<ellipse cx="1736.3" cy="884.1" rx="12.2" ry="5.5" transform="rotate(98 1736.3 884.1)" fill="#081428"/>
<ellipse cx="1697.7" cy="859.3" rx="9.4" ry="5.7" transform="rotate(165 1697.7 859.3)" fill="#081428"/>
<ellipse cx="1720.4" cy="895.6" rx="15.8" ry="4.8" transform="rotate(111 1720.4 895.6)" fill="#081428"/>
<ellipse cx="1645.0" cy="856.4" rx="16.6" ry="5.3" transform="rotate(39 1645.0 856.4)" fill="#081428"/>
<ellipse cx="1745.9" cy="1072.4" rx="10.2" ry="9.8" transform="rotate(97 1745.9 1072.4)" fill="#081428"/>
<ellipse cx="1710.0" cy="906.8" rx="17.4" ry="8.1" transform="rotate(174 1710.0 906.8)" fill="#081428"/>
<ellipse cx="1735.5" cy="930.1" rx="11.0" ry="5.0" transform="rotate(26 1735.5 930.1)" fill="#081428"/>
<ellipse cx="1637.7" cy="930.7" rx="13.6" ry="4.0" transform="rotate(122 1637.7 930.7)" fill="#081428"/>
<ellipse cx="1669.9" cy="932.9" rx="16.0" ry="6.9" transform="rotate(57 1669.9 932.9)" fill="#081428"/>
<ellipse cx="1686.8" cy="1030.8" rx="7.6" ry="9.9" transform="rotate(4 1686.8 1030.8)" fill="#081428"/>
<ellipse cx="1718.5" cy="1065.5" rx="7.2" ry="8.7" transform="rotate(66 1718.5 1065.5)" fill="#081428"/>
<ellipse cx="1698.3" cy="858.3" rx="7.5" ry="5.1" transform="rotate(172 1698.3 858.3)" fill="#081428"/>
<ellipse cx="1653.2" cy="1043.4" rx="17.2" ry="9.7" transform="rotate(62 1653.2 1043.4)" fill="#081428"/>
<ellipse cx="1671.9" cy="986.1" rx="15.5" ry="4.6" transform="rotate(135 1671.9 986.1)" fill="#081428"/>
<ellipse cx="1724.1" cy="1069.2" rx="7.4" ry="9.7" transform="rotate(16 1724.1 1069.2)" fill="#081428"/>
<ellipse cx="1670.2" cy="1007.5" rx="17.1" ry="6.0" transform="rotate(166 1670.2 1007.5)" fill="#081428"/>
<ellipse cx="1694.3" cy="933.5" rx="10.5" ry="5.1" transform="rotate(14 1694.3 933.5)" fill="#081428"/>
<ellipse cx="1647.6" cy="1026.9" rx="18.0" ry="5.0" transform="rotate(9 1647.6 1026.9)" fill="#081428"/>
<ellipse cx="1746.4" cy="988.3" rx="11.5" ry="5.4" transform="rotate(107 1746.4 988.3)" fill="#081428"/>
<ellipse cx="1727.5" cy="969.0" rx="11.6" ry="4.3" transform="rotate(165 1727.5 969.0)" fill="#081428"/>
<ellipse cx="1633.9" cy="978.4" rx="16.2" ry="4.8" transform="rotate(132 1633.9 978.4)" fill="#081428"/>
<ellipse cx="1742.1" cy="1012.3" rx="15.7" ry="4.6" transform="rotate(78 1742.1 1012.3)" fill="#081428"/>
<ellipse cx="1647.6" cy="1065.5" rx="10.2" ry="6.7" transform="rotate(180 1647.6 1065.5)" fill="#081428"/>
<ellipse cx="1730.6" cy="1098.0" rx="12.0" ry="6.9" transform="rotate(131 1730.6 1098.0)" fill="#081428"/>
<ellipse cx="1686.5" cy="928.2" rx="11.4" ry="4.9" transform="rotate(68 1686.5 928.2)" fill="#081428"/>
<ellipse cx="1746.6" cy="1094.0" rx="13.9" ry="7.0" transform="rotate(61 1746.6 1094.0)" fill="#081428"/>
<ellipse cx="1640.5" cy="923.5" rx="15.6" ry="9.2" transform="rotate(65 1640.5 923.5)" fill="#081428"/>
<ellipse cx="1722.8" cy="1048.2" rx="14.6" ry="8.0" transform="rotate(137 1722.8 1048.2)" fill="#081428"/>
<ellipse cx="1672.9" cy="1030.7" rx="10.1" ry="6.9" transform="rotate(139 1672.9 1030.7)" fill="#081428"/>
<ellipse cx="1711.5" cy="928.9" rx="17.4" ry="7.9" transform="rotate(105 1711.5 928.9)" fill="#081428"/>
<ellipse cx="1631.4" cy="991.7" rx="9.8" ry="8.0" transform="rotate(83 1631.4 991.7)" fill="#081428"/>
<ellipse cx="1726.4" cy="1016.6" rx="15.8" ry="6.1" transform="rotate(116 1726.4 1016.6)" fill="#081428"/>
<ellipse cx="1717.1" cy="1061.4" rx="8.8" ry="7.2" transform="rotate(157 1717.1 1061.4)" fill="#179c8e"/>
<ellipse cx="1711.2" cy="1098.1" rx="13.7" ry="5.6" transform="rotate(95 1711.2 1098.1)" fill="#179c8e"/>
<ellipse cx="1649.6" cy="1063.5" rx="13.5" ry="5.4" transform="rotate(124 1649.6 1063.5)" fill="#179c8e"/>
<ellipse cx="1714.9" cy="1037.1" rx="7.4" ry="6.9" transform="rotate(105 1714.9 1037.1)" fill="#179c8e"/>
<ellipse cx="1708.5" cy="960.4" rx="11.0" ry="6.9" transform="rotate(115 1708.5 960.4)" fill="#179c8e"/>
<ellipse cx="1715.0" cy="862.9" rx="7.3" ry="5.2" transform="rotate(117 1715.0 862.9)" fill="#179c8e"/>
<ellipse cx="1655.8" cy="1026.1" rx="11.0" ry="3.2" transform="rotate(85 1655.8 1026.1)" fill="#179c8e"/>
<ellipse cx="1656.7" cy="869.4" rx="7.1" ry="4.6" transform="rotate(33 1656.7 869.4)" fill="#179c8e"/>
<ellipse cx="1652.8" cy="864.8" rx="9.7" ry="4.9" transform="rotate(110 1652.8 864.8)" fill="#179c8e"/>
<ellipse cx="1699.6" cy="915.0" rx="13.2" ry="3.0" transform="rotate(73 1699.6 915.0)" fill="#179c8e"/>
<ellipse cx="1662.9" cy="957.7" rx="6.9" ry="7.2" transform="rotate(67 1662.9 957.7)" fill="#179c8e"/>
<ellipse cx="1634.3" cy="1008.2" rx="6.8" ry="5.7" transform="rotate(61 1634.3 1008.2)" fill="#179c8e"/>
<ellipse cx="1698.5" cy="1093.7" rx="12.5" ry="5.1" transform="rotate(146 1698.5 1093.7)" fill="#179c8e"/>
<ellipse cx="1705.8" cy="947.6" rx="7.1" ry="6.0" transform="rotate(101 1705.8 947.6)" fill="#179c8e"/>
<ellipse cx="1743.0" cy="1096.1" rx="10.9" ry="4.8" transform="rotate(161 1743.0 1096.1)" fill="#179c8e"/>
<ellipse cx="1630.1" cy="882.8" rx="10.5" ry="6.1" transform="rotate(25 1630.1 882.8)" fill="#179c8e"/>
<ellipse cx="1704.3" cy="1077.0" rx="9.0" ry="5.2" transform="rotate(41 1704.3 1077.0)" fill="#179c8e"/>
<ellipse cx="1664.4" cy="1097.2" rx="9.0" ry="7.8" transform="rotate(164 1664.4 1097.2)" fill="#179c8e"/>
<ellipse cx="1700.3" cy="920.4" rx="13.8" ry="5.5" transform="rotate(75 1700.3 920.4)" fill="#179c8e"/>
<ellipse cx="1667.7" cy="1100.1" rx="9.9" ry="4.4" transform="rotate(86 1667.7 1100.1)" fill="#179c8e"/>
<ellipse cx="1644.4" cy="1010.2" rx="9.5" ry="4.5" transform="rotate(141 1644.4 1010.2)" fill="#179c8e"/>
<ellipse cx="1727.6" cy="859.3" rx="10.3" ry="4.4" transform="rotate(168 1727.6 859.3)" fill="#179c8e"/>
<ellipse cx="1722.3" cy="916.9" rx="8.1" ry="3.8" transform="rotate(178 1722.3 916.9)" fill="#179c8e"/>
<ellipse cx="1664.6" cy="1006.8" rx="9.8" ry="6.2" transform="rotate(109 1664.6 1006.8)" fill="#179c8e"/>
<ellipse cx="1658" cy="900" rx="24" ry="20" fill="none" stroke="#081428" stroke-width="8"/>
<ellipse cx="1660" cy="900" rx="10" ry="8" fill="#179c8e" stroke="#081428" stroke-width="4"/>
<rect x="1705" y="848" width="50" height="100" fill="#1590a0" opacity="0.45"/>
<path d="M1706.0,858.0 l10,26" stroke="#081428" stroke-width="3" fill="none"/>
<path d="M1712.0,867.0 l10,26" stroke="#081428" stroke-width="3" fill="none"/>
<path d="M1718.0,876.0 l10,26" stroke="#081428" stroke-width="3" fill="none"/>
<path d="M1724.0,885.0 l10,26" stroke="#081428" stroke-width="3" fill="none"/>
<path d="M1730.0,894.0 l10,26" stroke="#081428" stroke-width="3" fill="none"/>
<path d="M1736.0,903.0 l10,26" stroke="#081428" stroke-width="3" fill="none"/>
<path d="M1742.0,912.0 l10,26" stroke="#081428" stroke-width="3" fill="none"/>
<path d="M1748.0,921.0 l10,26" stroke="#081428" stroke-width="3" fill="none"/>
<ellipse cx="1692" cy="1040" rx="50" ry="78" fill="none" stroke="#15788a" stroke-width="13"/>
<path d="M1728,977 L1748,1001 C1736,1010 1724,1016 1716,1020 C1708,1036 1698,1052 1687,1064 C1690,1030 1706,996 1728,977 Z" fill="#f04058"/>
<path d="M1733,946 L1750,944 L1750,964 Z" fill="#f04058"/>
</g>
</g>
<rect x="1620" y="849" width="140" height="6" fill="#0a1418" opacity="0.45"/>
<rect x="1620" y="1098" width="140" height="8" fill="#0a1418" opacity="0.45"/>
<rect x="1626" y="841" width="8" height="274" fill="#000" opacity="0.35"/>
<rect x="1740" y="841" width="8" height="274" fill="#000" opacity="0.35"/>
</g>
</g>
<g id="callouts" fill="#2c2c2c" stroke="none">
<rect x="680.7" y="255" width="4.4" height="520"/>
<rect x="682" y="775.8" width="162" height="4"/>
<circle cx="682" cy="255" r="17.6"/>
<circle cx="682.1" cy="773.4" r="17.6"/>
<circle cx="844.3" cy="772.4" r="17.6"/>
<rect x="1662.7" y="1186" width="4.4" height="254"/>
<path d="M1081,1440.2 L1662,1438 L1662,1442 L1081,1444.2 Z"/>
<circle cx="1663.5" cy="1186.7" r="17.6"/>
<circle cx="1660.7" cy="1438.8" r="17.6"/>
<circle cx="1081.5" cy="1442" r="17.6"/>
</g>
<g id="labels">
<text class="t1" transform="translate(748.99,279.6) scale(0.9357,1)">CHROME</text>
<text class="t1" transform="translate(1199.79,279.6) scale(0.9686,1)">D-RING</text>
<text class="t2" transform="translate(755.59,358.9) scale(0.9910,1)">TO</text>
<text class="t2" transform="translate(837.02,358.9) scale(1.0156,1)">ATTACH</text>
<text class="t2" transform="translate(1046.99,358.9) scale(1.0049,1)">LEASH</text>
<text class="t2" transform="translate(1226.98,358.9) scale(0.9840,1)">AND</text>
<text class="t2" transform="translate(1351.48,358.9) scale(0.9767,1)">TAGS</text>
<text class="t1" transform="translate(537.68,1563.8) scale(0.9708,1)">NON-SLIP</text>
<text class="t1" transform="translate(1028.74,1563.8) scale(0.9426,1)">METAL</text>
<text class="t1" transform="translate(1378.53,1563.8) scale(0.9117,1)">LOOP</text>
<text class="t2" transform="translate(538.86,1648.3) scale(0.9642,1)">TO</text>
<text class="t2" transform="translate(620.01,1648.3) scale(0.9942,1)">EASILY</text>
<text class="t2" transform="translate(807.01,1648.3) scale(1.0086,1)">ADJUST</text>
<text class="t2" transform="translate(1020.00,1648.3) scale(0.9889,1)">SIZE</text>
</g>
</svg>
</body>
</html>
